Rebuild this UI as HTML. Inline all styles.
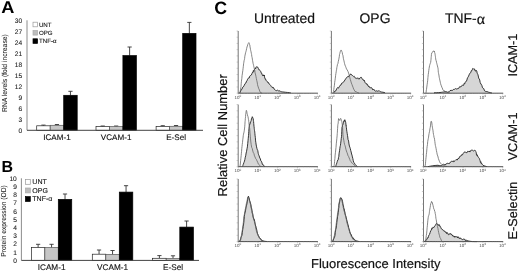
<!DOCTYPE html><html><head><meta charset="utf-8"><style>html,body{margin:0;padding:0;background:#fff;width:520px;height:272px;overflow:hidden}svg{display:block;will-change:transform}text{font-family:"Liberation Sans",sans-serif;text-rendering:geometricPrecision}</style></head><body>
<svg width="520" height="272" viewBox="0 0 520 272">
<defs><pattern id="hatch" width="2" height="2" patternUnits="userSpaceOnUse"><rect width="2" height="2" fill="#c8c8c8"/><rect width="1" height="1" fill="#a8a8a8"/></pattern></defs>
<rect width="520" height="272" fill="#fff"/>
<text transform="translate(1.3,13.3) scale(1.07,1)" font-size="17" font-weight="bold" fill="#000">A</text>
<text x="1.6" y="172.2" font-size="16" font-weight="bold" fill="#000">B</text>
<text x="214.2" y="13.5" font-size="17.8" font-weight="bold" fill="#000">C</text>
<line x1="27" y1="20.3" x2="27" y2="130.3" stroke="#808080" stroke-width="0.9"/>
<text x="22.1" y="132.68" font-size="6.6" text-anchor="end" fill="#222" stroke="#222" stroke-width="0.1">0</text>
<text x="22.1" y="121.68" font-size="6.6" text-anchor="end" fill="#222" stroke="#222" stroke-width="0.1">3</text>
<text x="22.1" y="110.68" font-size="6.6" text-anchor="end" fill="#222" stroke="#222" stroke-width="0.1">6</text>
<text x="22.1" y="99.68" font-size="6.6" text-anchor="end" fill="#222" stroke="#222" stroke-width="0.1">9</text>
<text x="22.1" y="88.68" font-size="6.6" text-anchor="end" fill="#222" stroke="#222" stroke-width="0.1">12</text>
<text x="22.1" y="77.68" font-size="6.6" text-anchor="end" fill="#222" stroke="#222" stroke-width="0.1">15</text>
<text x="22.1" y="66.68" font-size="6.6" text-anchor="end" fill="#222" stroke="#222" stroke-width="0.1">18</text>
<text x="22.1" y="55.68" font-size="6.6" text-anchor="end" fill="#222" stroke="#222" stroke-width="0.1">21</text>
<text x="22.1" y="44.68" font-size="6.6" text-anchor="end" fill="#222" stroke="#222" stroke-width="0.1">24</text>
<text x="22.1" y="33.68" font-size="6.6" text-anchor="end" fill="#222" stroke="#222" stroke-width="0.1">27</text>
<text x="22.1" y="22.68" font-size="6.6" text-anchor="end" fill="#222" stroke="#222" stroke-width="0.1">30</text>
<line x1="43.45" y1="125.1" x2="43.45" y2="125.8" stroke="#333" stroke-width="0.9"/>
<line x1="41.35" y1="125.1" x2="45.55" y2="125.1" stroke="#333" stroke-width="0.9"/>
<rect x="36.7" y="125.8" width="13.5" height="4.5" fill="#ffffff" stroke="#222" stroke-width="0.7"/>
<line x1="56.95" y1="124.5" x2="56.95" y2="125.3" stroke="#333" stroke-width="0.9"/>
<line x1="54.85" y1="124.5" x2="59.05" y2="124.5" stroke="#333" stroke-width="0.9"/>
<rect x="50.2" y="125.3" width="13.5" height="5" fill="#c6c6c6" stroke="#555" stroke-width="0.7"/>
<line x1="70.45" y1="91.3" x2="70.45" y2="95.3" stroke="#333" stroke-width="0.9"/>
<line x1="68.35" y1="91.3" x2="72.55" y2="91.3" stroke="#333" stroke-width="0.9"/>
<rect x="63.7" y="95.3" width="13.5" height="35" fill="#000000" stroke="#000" stroke-width="0.7"/>
<text x="56.95" y="139.7" font-size="8.1" text-anchor="middle" fill="#111" stroke="#111" stroke-width="0.12">ICAM-1</text>
<line x1="102.72" y1="126" x2="102.72" y2="126.6" stroke="#333" stroke-width="0.9"/>
<line x1="100.62" y1="126" x2="104.82" y2="126" stroke="#333" stroke-width="0.9"/>
<rect x="96" y="126.6" width="13.45" height="3.7" fill="#ffffff" stroke="#222" stroke-width="0.7"/>
<line x1="116.17" y1="126" x2="116.17" y2="126.6" stroke="#333" stroke-width="0.9"/>
<line x1="114.08" y1="126" x2="118.27" y2="126" stroke="#333" stroke-width="0.9"/>
<rect x="109.45" y="126.6" width="13.45" height="3.7" fill="#c6c6c6" stroke="#555" stroke-width="0.7"/>
<line x1="129.62" y1="47" x2="129.62" y2="55.6" stroke="#333" stroke-width="0.9"/>
<line x1="127.53" y1="47" x2="131.72" y2="47" stroke="#333" stroke-width="0.9"/>
<rect x="122.9" y="55.6" width="13.45" height="74.7" fill="#000000" stroke="#000" stroke-width="0.7"/>
<text x="116.17" y="139.7" font-size="8.1" text-anchor="middle" fill="#111" stroke="#111" stroke-width="0.12">VCAM-1</text>
<line x1="162.75" y1="125.7" x2="162.75" y2="126.4" stroke="#333" stroke-width="0.9"/>
<line x1="160.65" y1="125.7" x2="164.85" y2="125.7" stroke="#333" stroke-width="0.9"/>
<rect x="156.1" y="126.4" width="13.3" height="3.9" fill="#ffffff" stroke="#222" stroke-width="0.7"/>
<line x1="176.05" y1="125.5" x2="176.05" y2="126.3" stroke="#333" stroke-width="0.9"/>
<line x1="173.95" y1="125.5" x2="178.15" y2="125.5" stroke="#333" stroke-width="0.9"/>
<rect x="169.4" y="126.3" width="13.3" height="4" fill="#c6c6c6" stroke="#555" stroke-width="0.7"/>
<line x1="189.35" y1="22.4" x2="189.35" y2="33.4" stroke="#333" stroke-width="0.9"/>
<line x1="187.25" y1="22.4" x2="191.45" y2="22.4" stroke="#333" stroke-width="0.9"/>
<rect x="182.7" y="33.4" width="13.3" height="96.9" fill="#000000" stroke="#000" stroke-width="0.7"/>
<text x="176.05" y="139.7" font-size="8.1" text-anchor="middle" fill="#111" stroke="#111" stroke-width="0.12">E-Sel</text>
<line x1="27" y1="130.3" x2="203" y2="130.3" stroke="#444" stroke-width="1"/>
<text transform="translate(6.9,73.1) rotate(-90) scale(0.94,1)" font-size="7.2" text-anchor="middle" fill="#1a1a1a" stroke="#1a1a1a" stroke-width="0.06">RNA levels (fold increase)</text>
<rect x="33" y="22.2" width="4.6" height="4.6" fill="#fff" stroke="#999" stroke-width="0.7"/>
<text x="38.9" y="26.7" font-size="6.2" fill="#111" stroke="#111" stroke-width="0.08">UNT</text>
<rect x="33" y="30.5" width="4.6" height="4.6" fill="#bdbdbd" stroke="#aaa" stroke-width="0.7"/>
<text x="38.9" y="35" font-size="6.2" fill="#111" stroke="#111" stroke-width="0.08">OPG</text>
<rect x="33" y="38.8" width="4.6" height="4.6" fill="#000" stroke="#000" stroke-width="0.7"/>
<text x="38.9" y="43.3" font-size="6.2" fill="#111" stroke="#111" stroke-width="0.08">TNF-&#945;</text>
<line x1="21.4" y1="178.3" x2="21.4" y2="260.4" stroke="#808080" stroke-width="0.9"/>
<text x="16.8" y="262.78" font-size="6.6" text-anchor="end" fill="#222" stroke="#222" stroke-width="0.1">0</text>
<text x="16.8" y="254.57" font-size="6.6" text-anchor="end" fill="#222" stroke="#222" stroke-width="0.1">1</text>
<text x="16.8" y="246.36" font-size="6.6" text-anchor="end" fill="#222" stroke="#222" stroke-width="0.1">2</text>
<text x="16.8" y="238.15" font-size="6.6" text-anchor="end" fill="#222" stroke="#222" stroke-width="0.1">3</text>
<text x="16.8" y="229.94" font-size="6.6" text-anchor="end" fill="#222" stroke="#222" stroke-width="0.1">4</text>
<text x="16.8" y="221.73" font-size="6.6" text-anchor="end" fill="#222" stroke="#222" stroke-width="0.1">5</text>
<text x="16.8" y="213.52" font-size="6.6" text-anchor="end" fill="#222" stroke="#222" stroke-width="0.1">6</text>
<text x="16.8" y="205.31" font-size="6.6" text-anchor="end" fill="#222" stroke="#222" stroke-width="0.1">7</text>
<text x="16.8" y="197.1" font-size="6.6" text-anchor="end" fill="#222" stroke="#222" stroke-width="0.1">8</text>
<text x="16.8" y="188.89" font-size="6.6" text-anchor="end" fill="#222" stroke="#222" stroke-width="0.1">9</text>
<text x="16.8" y="180.68" font-size="6.6" text-anchor="end" fill="#222" stroke="#222" stroke-width="0.1">10</text>
<line x1="38.12" y1="244.3" x2="38.12" y2="247.6" stroke="#333" stroke-width="0.9"/>
<line x1="36.02" y1="244.3" x2="40.23" y2="244.3" stroke="#333" stroke-width="0.9"/>
<rect x="31.4" y="247.6" width="13.45" height="12.8" fill="#ffffff" stroke="#222" stroke-width="0.7"/>
<line x1="51.57" y1="244.3" x2="51.57" y2="247.6" stroke="#333" stroke-width="0.9"/>
<line x1="49.47" y1="244.3" x2="53.67" y2="244.3" stroke="#333" stroke-width="0.9"/>
<rect x="44.85" y="247.6" width="13.45" height="12.8" fill="#c6c6c6" stroke="#555" stroke-width="0.7"/>
<line x1="65.02" y1="194" x2="65.02" y2="199.4" stroke="#333" stroke-width="0.9"/>
<line x1="62.92" y1="194" x2="67.12" y2="194" stroke="#333" stroke-width="0.9"/>
<rect x="58.3" y="199.4" width="13.45" height="61" fill="#000000" stroke="#000" stroke-width="0.7"/>
<text x="51.57" y="270.3" font-size="8.2" text-anchor="middle" fill="#111" stroke="#111" stroke-width="0.12">ICAM-1</text>
<line x1="99.05" y1="250" x2="99.05" y2="254.2" stroke="#333" stroke-width="0.9"/>
<line x1="96.95" y1="250" x2="101.15" y2="250" stroke="#333" stroke-width="0.9"/>
<rect x="92.3" y="254.2" width="13.5" height="6.2" fill="#ffffff" stroke="#222" stroke-width="0.7"/>
<line x1="112.55" y1="250.5" x2="112.55" y2="254.5" stroke="#333" stroke-width="0.9"/>
<line x1="110.45" y1="250.5" x2="114.65" y2="250.5" stroke="#333" stroke-width="0.9"/>
<rect x="105.8" y="254.5" width="13.5" height="5.9" fill="#c6c6c6" stroke="#555" stroke-width="0.7"/>
<line x1="126.05" y1="185.7" x2="126.05" y2="192.1" stroke="#333" stroke-width="0.9"/>
<line x1="123.95" y1="185.7" x2="128.15" y2="185.7" stroke="#333" stroke-width="0.9"/>
<rect x="119.3" y="192.1" width="13.5" height="68.3" fill="#000000" stroke="#000" stroke-width="0.7"/>
<text x="112.55" y="270.3" font-size="8.2" text-anchor="middle" fill="#111" stroke="#111" stroke-width="0.12">VCAM-1</text>
<line x1="159.4" y1="255.6" x2="159.4" y2="258.3" stroke="#333" stroke-width="0.9"/>
<line x1="157.3" y1="255.6" x2="161.5" y2="255.6" stroke="#333" stroke-width="0.9"/>
<rect x="152.6" y="258.3" width="13.6" height="2.1" fill="#ffffff" stroke="#222" stroke-width="0.7"/>
<line x1="173" y1="255.8" x2="173" y2="258.5" stroke="#333" stroke-width="0.9"/>
<line x1="170.9" y1="255.8" x2="175.1" y2="255.8" stroke="#333" stroke-width="0.9"/>
<rect x="166.2" y="258.5" width="13.6" height="1.9" fill="#c6c6c6" stroke="#555" stroke-width="0.7"/>
<line x1="186.6" y1="221" x2="186.6" y2="227.1" stroke="#333" stroke-width="0.9"/>
<line x1="184.5" y1="221" x2="188.7" y2="221" stroke="#333" stroke-width="0.9"/>
<rect x="179.8" y="227.1" width="13.6" height="33.3" fill="#000000" stroke="#000" stroke-width="0.7"/>
<text x="173" y="270.3" font-size="8.2" text-anchor="middle" fill="#111" stroke="#111" stroke-width="0.12">E-Sel</text>
<line x1="21.4" y1="260.4" x2="199" y2="260.4" stroke="#444" stroke-width="1"/>
<text transform="translate(6.2,221) rotate(-90) scale(0.94,1)" font-size="7.1" text-anchor="middle" fill="#1a1a1a" stroke="#1a1a1a" stroke-width="0.06">Protein expression (OD)</text>
<rect x="25.4" y="179.4" width="4.9" height="4.9" fill="#fff" stroke="#999" stroke-width="0.7"/>
<text x="32.3" y="184.2" font-size="7.05" fill="#111" stroke="#111" stroke-width="0.08">UNT</text>
<rect x="25.4" y="188" width="4.9" height="4.9" fill="#bdbdbd" stroke="#aaa" stroke-width="0.7"/>
<text x="32.3" y="192.8" font-size="7.05" fill="#111" stroke="#111" stroke-width="0.08">OPG</text>
<rect x="25.4" y="196.6" width="4.9" height="4.9" fill="#000" stroke="#000" stroke-width="0.7"/>
<text x="32.3" y="201.4" font-size="7.05" fill="#111" stroke="#111" stroke-width="0.08">TNF-&#945;</text>
<text x="284.4" y="23.3" font-size="13.9" text-anchor="middle" fill="#111" stroke="#111" stroke-width="0.18">Untreated</text>
<text x="375.0" y="23.2" font-size="13.9" text-anchor="middle" fill="#111" stroke="#111" stroke-width="0.18">OPG</text>
<text x="445.0" y="23.2" font-size="13.9" fill="#111" stroke="#111" stroke-width="0.18">TNF-<tspan font-family="Liberation Serif, serif" font-size="15.8" dy="0.6">&#945;</tspan></text>
<text transform="translate(227.4,135.3) rotate(-90)" font-size="12.95" text-anchor="middle" fill="#111" stroke="#111" stroke-width="0.18">Relative Cell Number</text>
<text x="375.8" y="267.6" font-size="12.95" text-anchor="middle" fill="#111" stroke="#111" stroke-width="0.18">Fluorescence Intensity</text>
<text transform="translate(516.9,55.1) rotate(-90)" font-size="12.7" text-anchor="middle" fill="#111" stroke="#111" stroke-width="0.18">ICAM-1</text>
<text transform="translate(517.4,136.5) rotate(-90)" font-size="12.7" text-anchor="middle" fill="#111" stroke="#111" stroke-width="0.18">VCAM-1</text>
<text transform="translate(516.9,210.5) rotate(-90)" font-size="12.7" text-anchor="middle" fill="#111" stroke="#111" stroke-width="0.18">E-Selectin</text>
<path d="M239.5,93 L239.59,92.89 L239.7,92.75 L239.89,92.48 L240.2,92 L240.66,90.95 L241.24,89.69 L241.9,89.38 L242.6,87.32 L243.39,86.85 L244.26,85.29 L245.13,83.5 L245.9,83.01 L246.53,81.17 L247.07,80.77 L247.58,79.22 L248.1,78.35 L248.65,78.07 L249.2,77.99 L249.75,76.16 L250.3,75.56 L250.86,75.33 L251.43,74.92 L251.99,73.42 L252.5,72.33 L252.97,72.61 L253.4,70.57 L253.81,71.37 L254.2,69.96 L254.58,69.23 L254.94,68.7 L255.28,68.54 L255.6,68.91 L255.88,67.38 L256.13,67.47 L256.39,67.15 L256.7,66.6 L257.09,67.17 L257.52,67 L257.97,67.7 L258.4,68.53 L258.8,69.7 L259.2,69.65 L259.6,69.83 L260,70.74 L260.44,71.17 L260.89,71.68 L261.33,73.23 L261.7,73.72 L261.96,73.5 L262.16,74.46 L262.34,74.74 L262.6,75.6 L262.96,75.51 L263.39,74.82 L263.82,76.02 L264.2,74.99 L264.48,76.23 L264.71,77.81 L264.96,77.93 L265.3,79.38 L265.77,79.31 L266.33,80.83 L266.92,81.47 L267.5,81.72 L268.05,82.87 L268.6,82.7 L269.15,84.04 L269.7,84.55 L270.25,85.12 L270.8,85.47 L271.35,86.61 L271.9,87.31 L272.42,87.12 L272.93,87.99 L273.47,87.58 L274.1,89.12 L274.85,89.51 L275.68,90.51 L276.55,90.64 L277.4,90.16 L278.22,90.65 L279.05,91.39 L279.87,90.62 L280.7,91.54 L281.45,91.76 L282.14,91.88 L282.94,91.97 L284,92.1 L285.59,92.28 L287.56,92.48 L289.42,92.67 L290.7,92.8 L290.7,93.2 L239.5,93.2 Z" fill="#d6d6d6" stroke="none"/>
<path d="M239.5,93 L239.59,92.89 L239.7,92.75 L239.89,92.48 L240.2,92 L240.66,90.95 L241.24,89.69 L241.9,89.38 L242.6,87.32 L243.39,86.85 L244.26,85.29 L245.13,83.5 L245.9,83.01 L246.53,81.17 L247.07,80.77 L247.58,79.22 L248.1,78.35 L248.65,78.07 L249.2,77.99 L249.75,76.16 L250.3,75.56 L250.86,75.33 L251.43,74.92 L251.99,73.42 L252.5,72.33 L252.97,72.61 L253.4,70.57 L253.81,71.37 L254.2,69.96 L254.58,69.23 L254.94,68.7 L255.28,68.54 L255.6,68.91 L255.88,67.38 L256.13,67.47 L256.39,67.15 L256.7,66.6 L257.09,67.17 L257.52,67 L257.97,67.7 L258.4,68.53 L258.8,69.7 L259.2,69.65 L259.6,69.83 L260,70.74 L260.44,71.17 L260.89,71.68 L261.33,73.23 L261.7,73.72 L261.96,73.5 L262.16,74.46 L262.34,74.74 L262.6,75.6 L262.96,75.51 L263.39,74.82 L263.82,76.02 L264.2,74.99 L264.48,76.23 L264.71,77.81 L264.96,77.93 L265.3,79.38 L265.77,79.31 L266.33,80.83 L266.92,81.47 L267.5,81.72 L268.05,82.87 L268.6,82.7 L269.15,84.04 L269.7,84.55 L270.25,85.12 L270.8,85.47 L271.35,86.61 L271.9,87.31 L272.42,87.12 L272.93,87.99 L273.47,87.58 L274.1,89.12 L274.85,89.51 L275.68,90.51 L276.55,90.64 L277.4,90.16 L278.22,90.65 L279.05,91.39 L279.87,90.62 L280.7,91.54 L281.45,91.76 L282.14,91.88 L282.94,91.97 L284,92.1 L285.59,92.28 L287.56,92.48 L289.42,92.67 L290.7,92.8" fill="none" stroke="#151515" stroke-width="0.85" stroke-linejoin="miter"/>
<path d="M240,93 L240.14,92.17 L240.35,90.63 L240.58,89.15 L240.8,87.51 L241,86.51 L241.19,83.77 L241.39,81.79 L241.6,79.88 L241.84,78.42 L242.09,75.53 L242.35,73.94 L242.6,72.06 L242.85,70.38 L243.1,68.23 L243.35,66.27 L243.6,63.75 L243.85,62.24 L244.1,60.65 L244.35,59.81 L244.6,58.51 L244.84,56.3 L245.08,55.11 L245.32,53.96 L245.6,52.7 L245.92,51.63 L246.26,50.35 L246.63,48.59 L247,46.94 L247.4,45.96 L247.82,44.38 L248.24,43.32 L248.6,43.01 L248.89,42.66 L249.14,42.92 L249.37,43.79 L249.6,44.7 L249.83,44.91 L250.04,46.95 L250.26,48.02 L250.5,49.42 L250.76,50.73 L251.04,51.79 L251.33,53.35 L251.6,54.56 L251.86,56.67 L252.11,57.57 L252.35,59.09 L252.6,60.67 L252.85,61.94 L253.09,63.38 L253.34,64.27 L253.6,65.44 L253.89,66.84 L254.19,67.99 L254.5,69.53 L254.8,70.47 L255.09,72.83 L255.38,74 L255.68,75.01 L256,76.72 L256.35,78.54 L256.73,80.38 L257.12,81.91 L257.5,84.39 L257.88,86.09 L258.25,86.96 L258.62,88.32 L259,89.04 L259.38,90.04 L259.75,91.14 L260.12,91.98 L260.5,92.5 L260.91,92.81 L261.34,92.94 L261.73,92.97 L262,93" fill="none" stroke="#5e5e5e" stroke-width="0.75" stroke-linejoin="round"/>
<line x1="238.2" y1="31" x2="238.2" y2="93.2" stroke="#666" stroke-width="0.9"/>
<line x1="238.2" y1="93.2" x2="317.9" y2="93.2" stroke="#4a4a4a" stroke-width="1"/>
<line x1="236.6" y1="31" x2="238.2" y2="31" stroke="#999" stroke-width="0.5"/>
<line x1="236.6" y1="37.22" x2="238.2" y2="37.22" stroke="#999" stroke-width="0.5"/>
<line x1="236.6" y1="43.44" x2="238.2" y2="43.44" stroke="#999" stroke-width="0.5"/>
<line x1="236.6" y1="49.66" x2="238.2" y2="49.66" stroke="#999" stroke-width="0.5"/>
<line x1="236.6" y1="55.88" x2="238.2" y2="55.88" stroke="#999" stroke-width="0.5"/>
<line x1="236.6" y1="62.1" x2="238.2" y2="62.1" stroke="#999" stroke-width="0.5"/>
<line x1="236.6" y1="68.32" x2="238.2" y2="68.32" stroke="#999" stroke-width="0.5"/>
<line x1="236.6" y1="74.54" x2="238.2" y2="74.54" stroke="#999" stroke-width="0.5"/>
<line x1="236.6" y1="80.76" x2="238.2" y2="80.76" stroke="#999" stroke-width="0.5"/>
<line x1="236.6" y1="86.98" x2="238.2" y2="86.98" stroke="#999" stroke-width="0.5"/>
<line x1="236.6" y1="93.2" x2="238.2" y2="93.2" stroke="#999" stroke-width="0.5"/>
<line x1="238.2" y1="93.2" x2="238.2" y2="94.4" stroke="#888" stroke-width="0.5"/>
<text x="237.8" y="98.5" font-size="4.5" text-anchor="middle" fill="#4a4a4a">10<tspan font-size="3.1" dy="-1.5">0</tspan></text>
<line x1="244.16" y1="93.2" x2="244.16" y2="93.9" stroke="#aaa" stroke-width="0.35"/>
<line x1="247.65" y1="93.2" x2="247.65" y2="93.9" stroke="#aaa" stroke-width="0.35"/>
<line x1="250.12" y1="93.2" x2="250.12" y2="93.9" stroke="#aaa" stroke-width="0.35"/>
<line x1="252.04" y1="93.2" x2="252.04" y2="93.9" stroke="#aaa" stroke-width="0.35"/>
<line x1="253.61" y1="93.2" x2="253.61" y2="93.9" stroke="#aaa" stroke-width="0.35"/>
<line x1="254.93" y1="93.2" x2="254.93" y2="93.9" stroke="#aaa" stroke-width="0.35"/>
<line x1="256.08" y1="93.2" x2="256.08" y2="93.9" stroke="#aaa" stroke-width="0.35"/>
<line x1="257.09" y1="93.2" x2="257.09" y2="93.9" stroke="#aaa" stroke-width="0.35"/>
<line x1="258" y1="93.2" x2="258" y2="94.4" stroke="#888" stroke-width="0.5"/>
<text x="257.6" y="98.5" font-size="4.5" text-anchor="middle" fill="#4a4a4a">10<tspan font-size="3.1" dy="-1.5">1</tspan></text>
<line x1="263.96" y1="93.2" x2="263.96" y2="93.9" stroke="#aaa" stroke-width="0.35"/>
<line x1="267.45" y1="93.2" x2="267.45" y2="93.9" stroke="#aaa" stroke-width="0.35"/>
<line x1="269.92" y1="93.2" x2="269.92" y2="93.9" stroke="#aaa" stroke-width="0.35"/>
<line x1="271.84" y1="93.2" x2="271.84" y2="93.9" stroke="#aaa" stroke-width="0.35"/>
<line x1="273.41" y1="93.2" x2="273.41" y2="93.9" stroke="#aaa" stroke-width="0.35"/>
<line x1="274.73" y1="93.2" x2="274.73" y2="93.9" stroke="#aaa" stroke-width="0.35"/>
<line x1="275.88" y1="93.2" x2="275.88" y2="93.9" stroke="#aaa" stroke-width="0.35"/>
<line x1="276.89" y1="93.2" x2="276.89" y2="93.9" stroke="#aaa" stroke-width="0.35"/>
<line x1="277.8" y1="93.2" x2="277.8" y2="94.4" stroke="#888" stroke-width="0.5"/>
<text x="277.4" y="98.5" font-size="4.5" text-anchor="middle" fill="#4a4a4a">10<tspan font-size="3.1" dy="-1.5">2</tspan></text>
<line x1="283.76" y1="93.2" x2="283.76" y2="93.9" stroke="#aaa" stroke-width="0.35"/>
<line x1="287.25" y1="93.2" x2="287.25" y2="93.9" stroke="#aaa" stroke-width="0.35"/>
<line x1="289.72" y1="93.2" x2="289.72" y2="93.9" stroke="#aaa" stroke-width="0.35"/>
<line x1="291.64" y1="93.2" x2="291.64" y2="93.9" stroke="#aaa" stroke-width="0.35"/>
<line x1="293.21" y1="93.2" x2="293.21" y2="93.9" stroke="#aaa" stroke-width="0.35"/>
<line x1="294.53" y1="93.2" x2="294.53" y2="93.9" stroke="#aaa" stroke-width="0.35"/>
<line x1="295.68" y1="93.2" x2="295.68" y2="93.9" stroke="#aaa" stroke-width="0.35"/>
<line x1="296.69" y1="93.2" x2="296.69" y2="93.9" stroke="#aaa" stroke-width="0.35"/>
<line x1="297.6" y1="93.2" x2="297.6" y2="94.4" stroke="#888" stroke-width="0.5"/>
<text x="297.2" y="98.5" font-size="4.5" text-anchor="middle" fill="#4a4a4a">10<tspan font-size="3.1" dy="-1.5">3</tspan></text>
<line x1="303.56" y1="93.2" x2="303.56" y2="93.9" stroke="#aaa" stroke-width="0.35"/>
<line x1="307.05" y1="93.2" x2="307.05" y2="93.9" stroke="#aaa" stroke-width="0.35"/>
<line x1="309.52" y1="93.2" x2="309.52" y2="93.9" stroke="#aaa" stroke-width="0.35"/>
<line x1="311.44" y1="93.2" x2="311.44" y2="93.9" stroke="#aaa" stroke-width="0.35"/>
<line x1="313.01" y1="93.2" x2="313.01" y2="93.9" stroke="#aaa" stroke-width="0.35"/>
<line x1="314.33" y1="93.2" x2="314.33" y2="93.9" stroke="#aaa" stroke-width="0.35"/>
<line x1="315.48" y1="93.2" x2="315.48" y2="93.9" stroke="#aaa" stroke-width="0.35"/>
<line x1="316.49" y1="93.2" x2="316.49" y2="93.9" stroke="#aaa" stroke-width="0.35"/>
<line x1="317.4" y1="93.2" x2="317.4" y2="94.4" stroke="#888" stroke-width="0.5"/>
<text x="317" y="98.5" font-size="4.5" text-anchor="middle" fill="#4a4a4a">10<tspan font-size="3.1" dy="-1.5">4</tspan></text>
<path d="M333.5,93 L333.59,92.91 L333.69,92.79 L333.91,92.55 L334.3,92.1 L334.95,90.97 L335.79,90.88 L336.72,88.74 L337.6,87.54 L338.43,88.19 L339.25,86.74 L340.07,85.33 L340.9,85.07 L341.72,83.17 L342.55,82.79 L343.37,82.33 L344.2,81.08 L345.04,79.89 L345.88,78.36 L346.71,77.74 L347.5,76.67 L348.25,76.84 L348.97,75.66 L349.65,75.38 L350.3,74.23 L350.9,73.93 L351.47,74.97 L352,75.49 L352.5,75.56 L352.96,75.82 L353.39,76.25 L353.79,76.59 L354.2,76.26 L354.61,77.34 L355.02,77.8 L355.42,77.9 L355.8,78.24 L356.15,78.55 L356.46,78.13 L356.8,78.37 L357.2,78.53 L357.71,77.74 L358.28,78.71 L358.87,78.99 L359.4,79.03 L359.86,77.99 L360.29,77.57 L360.69,77.4 L361.1,77.31 L361.5,77.46 L361.9,78.38 L362.3,79.15 L362.7,79.44 L363.12,79.34 L363.55,80.18 L363.98,81 L364.4,80.44 L364.8,81.92 L365.2,82.89 L365.6,83.24 L366,83.7 L366.42,83.73 L366.85,83.67 L367.28,85.06 L367.7,84.73 L368.09,85.89 L368.47,86.55 L368.86,86.03 L369.3,86.44 L369.81,87.74 L370.36,87.83 L370.94,87.37 L371.5,87.7 L372.02,88.09 L372.53,89.62 L373.07,89.77 L373.7,89.03 L374.45,90.48 L375.27,91.1 L376.14,90.94 L377,90.76 L377.81,91.32 L378.62,90.85 L379.46,90.84 L380.4,91.8 L381.57,92.02 L382.91,92.25 L384.15,92.46 L385,92.6 L385,93.2 L333.5,93.2 Z" fill="#d6d6d6" stroke="none"/>
<path d="M333.5,93 L333.59,92.91 L333.69,92.79 L333.91,92.55 L334.3,92.1 L334.95,90.97 L335.79,90.88 L336.72,88.74 L337.6,87.54 L338.43,88.19 L339.25,86.74 L340.07,85.33 L340.9,85.07 L341.72,83.17 L342.55,82.79 L343.37,82.33 L344.2,81.08 L345.04,79.89 L345.88,78.36 L346.71,77.74 L347.5,76.67 L348.25,76.84 L348.97,75.66 L349.65,75.38 L350.3,74.23 L350.9,73.93 L351.47,74.97 L352,75.49 L352.5,75.56 L352.96,75.82 L353.39,76.25 L353.79,76.59 L354.2,76.26 L354.61,77.34 L355.02,77.8 L355.42,77.9 L355.8,78.24 L356.15,78.55 L356.46,78.13 L356.8,78.37 L357.2,78.53 L357.71,77.74 L358.28,78.71 L358.87,78.99 L359.4,79.03 L359.86,77.99 L360.29,77.57 L360.69,77.4 L361.1,77.31 L361.5,77.46 L361.9,78.38 L362.3,79.15 L362.7,79.44 L363.12,79.34 L363.55,80.18 L363.98,81 L364.4,80.44 L364.8,81.92 L365.2,82.89 L365.6,83.24 L366,83.7 L366.42,83.73 L366.85,83.67 L367.28,85.06 L367.7,84.73 L368.09,85.89 L368.47,86.55 L368.86,86.03 L369.3,86.44 L369.81,87.74 L370.36,87.83 L370.94,87.37 L371.5,87.7 L372.02,88.09 L372.53,89.62 L373.07,89.77 L373.7,89.03 L374.45,90.48 L375.27,91.1 L376.14,90.94 L377,90.76 L377.81,91.32 L378.62,90.85 L379.46,90.84 L380.4,91.8 L381.57,92.02 L382.91,92.25 L384.15,92.46 L385,92.6" fill="none" stroke="#151515" stroke-width="0.85" stroke-linejoin="miter"/>
<path d="M333,93 L333.13,92.49 L333.33,91.79 L333.55,91.32 L333.8,89.57 L334.07,87.45 L334.38,85.46 L334.69,82.31 L335,80.42 L335.31,78.21 L335.62,75.43 L335.92,73.51 L336.2,71.77 L336.43,70.19 L336.63,69.27 L336.83,67.63 L337.1,66.41 L337.46,64.49 L337.89,63.68 L338.32,61.33 L338.7,59.75 L339.01,58.14 L339.27,56.7 L339.52,54.48 L339.8,53.67 L340.11,52.1 L340.43,51.24 L340.76,50.65 L341.1,49.96 L341.47,50.89 L341.86,51.53 L342.25,52.52 L342.6,54.64 L342.9,55.21 L343.18,56.98 L343.43,58.71 L343.7,59.86 L343.97,60.83 L344.25,62.21 L344.52,63.35 L344.8,64.62 L345.04,64.7 L345.25,65.92 L345.51,66.3 L345.9,67.25 L346.49,68.95 L347.21,69.95 L347.96,71.4 L348.6,73.09 L349.08,74.82 L349.48,75.96 L349.86,77.85 L350.3,79.41 L350.81,81.11 L351.37,83.05 L351.94,84.44 L352.5,86.04 L353.05,87.31 L353.6,89.04 L354.15,89.84 L354.7,90.92 L355.25,91.66 L355.81,91.37 L356.36,91.99 L356.9,92.3 L357.48,92.57 L358.09,92.76 L358.62,92.9 L359,93" fill="none" stroke="#5e5e5e" stroke-width="0.75" stroke-linejoin="round"/>
<line x1="331.4" y1="31" x2="331.4" y2="93.2" stroke="#666" stroke-width="0.9"/>
<line x1="331.4" y1="93.2" x2="411.1" y2="93.2" stroke="#4a4a4a" stroke-width="1"/>
<line x1="329.8" y1="31" x2="331.4" y2="31" stroke="#999" stroke-width="0.5"/>
<line x1="329.8" y1="37.22" x2="331.4" y2="37.22" stroke="#999" stroke-width="0.5"/>
<line x1="329.8" y1="43.44" x2="331.4" y2="43.44" stroke="#999" stroke-width="0.5"/>
<line x1="329.8" y1="49.66" x2="331.4" y2="49.66" stroke="#999" stroke-width="0.5"/>
<line x1="329.8" y1="55.88" x2="331.4" y2="55.88" stroke="#999" stroke-width="0.5"/>
<line x1="329.8" y1="62.1" x2="331.4" y2="62.1" stroke="#999" stroke-width="0.5"/>
<line x1="329.8" y1="68.32" x2="331.4" y2="68.32" stroke="#999" stroke-width="0.5"/>
<line x1="329.8" y1="74.54" x2="331.4" y2="74.54" stroke="#999" stroke-width="0.5"/>
<line x1="329.8" y1="80.76" x2="331.4" y2="80.76" stroke="#999" stroke-width="0.5"/>
<line x1="329.8" y1="86.98" x2="331.4" y2="86.98" stroke="#999" stroke-width="0.5"/>
<line x1="329.8" y1="93.2" x2="331.4" y2="93.2" stroke="#999" stroke-width="0.5"/>
<line x1="331.4" y1="93.2" x2="331.4" y2="94.4" stroke="#888" stroke-width="0.5"/>
<text x="331" y="98.5" font-size="4.5" text-anchor="middle" fill="#4a4a4a">10<tspan font-size="3.1" dy="-1.5">0</tspan></text>
<line x1="337.36" y1="93.2" x2="337.36" y2="93.9" stroke="#aaa" stroke-width="0.35"/>
<line x1="340.85" y1="93.2" x2="340.85" y2="93.9" stroke="#aaa" stroke-width="0.35"/>
<line x1="343.32" y1="93.2" x2="343.32" y2="93.9" stroke="#aaa" stroke-width="0.35"/>
<line x1="345.24" y1="93.2" x2="345.24" y2="93.9" stroke="#aaa" stroke-width="0.35"/>
<line x1="346.81" y1="93.2" x2="346.81" y2="93.9" stroke="#aaa" stroke-width="0.35"/>
<line x1="348.13" y1="93.2" x2="348.13" y2="93.9" stroke="#aaa" stroke-width="0.35"/>
<line x1="349.28" y1="93.2" x2="349.28" y2="93.9" stroke="#aaa" stroke-width="0.35"/>
<line x1="350.29" y1="93.2" x2="350.29" y2="93.9" stroke="#aaa" stroke-width="0.35"/>
<line x1="351.2" y1="93.2" x2="351.2" y2="94.4" stroke="#888" stroke-width="0.5"/>
<text x="350.8" y="98.5" font-size="4.5" text-anchor="middle" fill="#4a4a4a">10<tspan font-size="3.1" dy="-1.5">1</tspan></text>
<line x1="357.16" y1="93.2" x2="357.16" y2="93.9" stroke="#aaa" stroke-width="0.35"/>
<line x1="360.65" y1="93.2" x2="360.65" y2="93.9" stroke="#aaa" stroke-width="0.35"/>
<line x1="363.12" y1="93.2" x2="363.12" y2="93.9" stroke="#aaa" stroke-width="0.35"/>
<line x1="365.04" y1="93.2" x2="365.04" y2="93.9" stroke="#aaa" stroke-width="0.35"/>
<line x1="366.61" y1="93.2" x2="366.61" y2="93.9" stroke="#aaa" stroke-width="0.35"/>
<line x1="367.93" y1="93.2" x2="367.93" y2="93.9" stroke="#aaa" stroke-width="0.35"/>
<line x1="369.08" y1="93.2" x2="369.08" y2="93.9" stroke="#aaa" stroke-width="0.35"/>
<line x1="370.09" y1="93.2" x2="370.09" y2="93.9" stroke="#aaa" stroke-width="0.35"/>
<line x1="371" y1="93.2" x2="371" y2="94.4" stroke="#888" stroke-width="0.5"/>
<text x="370.6" y="98.5" font-size="4.5" text-anchor="middle" fill="#4a4a4a">10<tspan font-size="3.1" dy="-1.5">2</tspan></text>
<line x1="376.96" y1="93.2" x2="376.96" y2="93.9" stroke="#aaa" stroke-width="0.35"/>
<line x1="380.45" y1="93.2" x2="380.45" y2="93.9" stroke="#aaa" stroke-width="0.35"/>
<line x1="382.92" y1="93.2" x2="382.92" y2="93.9" stroke="#aaa" stroke-width="0.35"/>
<line x1="384.84" y1="93.2" x2="384.84" y2="93.9" stroke="#aaa" stroke-width="0.35"/>
<line x1="386.41" y1="93.2" x2="386.41" y2="93.9" stroke="#aaa" stroke-width="0.35"/>
<line x1="387.73" y1="93.2" x2="387.73" y2="93.9" stroke="#aaa" stroke-width="0.35"/>
<line x1="388.88" y1="93.2" x2="388.88" y2="93.9" stroke="#aaa" stroke-width="0.35"/>
<line x1="389.89" y1="93.2" x2="389.89" y2="93.9" stroke="#aaa" stroke-width="0.35"/>
<line x1="390.8" y1="93.2" x2="390.8" y2="94.4" stroke="#888" stroke-width="0.5"/>
<text x="390.4" y="98.5" font-size="4.5" text-anchor="middle" fill="#4a4a4a">10<tspan font-size="3.1" dy="-1.5">3</tspan></text>
<line x1="396.76" y1="93.2" x2="396.76" y2="93.9" stroke="#aaa" stroke-width="0.35"/>
<line x1="400.25" y1="93.2" x2="400.25" y2="93.9" stroke="#aaa" stroke-width="0.35"/>
<line x1="402.72" y1="93.2" x2="402.72" y2="93.9" stroke="#aaa" stroke-width="0.35"/>
<line x1="404.64" y1="93.2" x2="404.64" y2="93.9" stroke="#aaa" stroke-width="0.35"/>
<line x1="406.21" y1="93.2" x2="406.21" y2="93.9" stroke="#aaa" stroke-width="0.35"/>
<line x1="407.53" y1="93.2" x2="407.53" y2="93.9" stroke="#aaa" stroke-width="0.35"/>
<line x1="408.68" y1="93.2" x2="408.68" y2="93.9" stroke="#aaa" stroke-width="0.35"/>
<line x1="409.69" y1="93.2" x2="409.69" y2="93.9" stroke="#aaa" stroke-width="0.35"/>
<line x1="410.6" y1="93.2" x2="410.6" y2="94.4" stroke="#888" stroke-width="0.5"/>
<text x="410.2" y="98.5" font-size="4.5" text-anchor="middle" fill="#4a4a4a">10<tspan font-size="3.1" dy="-1.5">4</tspan></text>
<path d="M434,92.8 L435.1,92.76 L436.69,92.69 L438.43,92.61 L440,92.5 L441.32,92.35 L442.56,92.17 L443.77,91.98 L445,91.8 L446.26,91.76 L447.54,92.25 L448.79,91.95 L450,90.62 L451.14,90.32 L452.24,90.51 L453.31,89.54 L454.4,89.39 L455.52,88.62 L456.64,89.02 L457.75,88.62 L458.8,88.24 L459.81,86.5 L460.79,86.85 L461.7,86.21 L462.5,84.83 L463.16,85.5 L463.69,85.14 L464.19,83.41 L464.7,83.92 L465.25,82.23 L465.8,81.47 L466.35,81.29 L466.9,80.03 L467.45,77.89 L468,77.19 L468.55,76.19 L469.1,74.84 L469.66,73.61 L470.22,72.84 L470.77,72.58 L471.3,70.63 L471.8,70.69 L472.27,69.75 L472.74,68.47 L473.2,68.63 L473.66,69.11 L474.12,69.23 L474.57,68.92 L475,70.78 L475.4,70.74 L475.77,71.29 L476.14,70.25 L476.5,71.02 L476.85,71.41 L477.2,73.51 L477.55,73.7 L477.9,74.51 L478.27,76.03 L478.64,77.91 L479.02,78.89 L479.4,79.11 L479.76,80.04 L480.11,82.36 L480.48,82.91 L480.9,84.22 L481.38,84.4 L481.91,85.54 L482.48,87.69 L483.1,88.28 L483.77,88.6 L484.5,90.77 L485.25,90.96 L486,91.78 L486.74,91.02 L487.49,91.94 L488.25,92.12 L489,92.3 L489.82,92.51 L490.69,92.71 L491.46,92.88 L492,93 L492,93.2 L434,93.2 Z" fill="#d6d6d6" stroke="none"/>
<path d="M434,92.8 L435.1,92.76 L436.69,92.69 L438.43,92.61 L440,92.5 L441.32,92.35 L442.56,92.17 L443.77,91.98 L445,91.8 L446.26,91.76 L447.54,92.25 L448.79,91.95 L450,90.62 L451.14,90.32 L452.24,90.51 L453.31,89.54 L454.4,89.39 L455.52,88.62 L456.64,89.02 L457.75,88.62 L458.8,88.24 L459.81,86.5 L460.79,86.85 L461.7,86.21 L462.5,84.83 L463.16,85.5 L463.69,85.14 L464.19,83.41 L464.7,83.92 L465.25,82.23 L465.8,81.47 L466.35,81.29 L466.9,80.03 L467.45,77.89 L468,77.19 L468.55,76.19 L469.1,74.84 L469.66,73.61 L470.22,72.84 L470.77,72.58 L471.3,70.63 L471.8,70.69 L472.27,69.75 L472.74,68.47 L473.2,68.63 L473.66,69.11 L474.12,69.23 L474.57,68.92 L475,70.78 L475.4,70.74 L475.77,71.29 L476.14,70.25 L476.5,71.02 L476.85,71.41 L477.2,73.51 L477.55,73.7 L477.9,74.51 L478.27,76.03 L478.64,77.91 L479.02,78.89 L479.4,79.11 L479.76,80.04 L480.11,82.36 L480.48,82.91 L480.9,84.22 L481.38,84.4 L481.91,85.54 L482.48,87.69 L483.1,88.28 L483.77,88.6 L484.5,90.77 L485.25,90.96 L486,91.78 L486.74,91.02 L487.49,91.94 L488.25,92.12 L489,92.3 L489.82,92.51 L490.69,92.71 L491.46,92.88 L492,93" fill="none" stroke="#151515" stroke-width="0.85" stroke-linejoin="miter"/>
<path d="M426,93 L426.04,92.68 L426.08,92.24 L426.16,91.96 L426.3,90.01 L426.52,89.38 L426.8,87.01 L427.11,84.74 L427.4,82.76 L427.67,80.78 L427.95,77.43 L428.22,74.69 L428.5,72.83 L428.77,70.52 L429.05,68.59 L429.32,67.05 L429.6,65.5 L429.89,64.5 L430.18,63.71 L430.46,62.82 L430.7,62.29 L430.89,60.44 L431.04,59.21 L431.17,57.39 L431.3,56.33 L431.39,54.95 L431.45,54.36 L431.56,53.35 L431.8,53.46 L432.26,52.5 L432.86,51.34 L433.49,51.11 L434,51.49 L434.36,50.97 L434.65,52.59 L434.89,53.19 L435.1,54.29 L435.27,55.7 L435.4,56.31 L435.53,57.57 L435.7,58.91 L435.94,60.33 L436.21,60.71 L436.51,62.37 L436.8,63.43 L437.11,64.69 L437.44,65.87 L437.75,67.23 L438,68.2 L438.14,69.38 L438.21,70.27 L438.27,71.98 L438.4,72.53 L438.63,73.7 L438.91,75 L439.21,77.27 L439.5,78.72 L439.76,79.89 L440.01,80.87 L440.28,82.21 L440.6,83.57 L440.97,84.99 L441.38,85.84 L441.83,87.26 L442.3,88.03 L442.8,89.65 L443.33,90.38 L443.9,90.52 L444.5,90.71 L445.16,91.96 L445.87,91.77 L446.59,92.05 L447.3,92.3 L448.05,92.53 L448.83,92.73 L449.52,92.89 L450,93" fill="none" stroke="#5e5e5e" stroke-width="0.75" stroke-linejoin="round"/>
<line x1="423.5" y1="31" x2="423.5" y2="93.2" stroke="#666" stroke-width="0.9"/>
<line x1="423.5" y1="93.2" x2="503.2" y2="93.2" stroke="#4a4a4a" stroke-width="1"/>
<line x1="421.9" y1="31" x2="423.5" y2="31" stroke="#999" stroke-width="0.5"/>
<line x1="421.9" y1="37.22" x2="423.5" y2="37.22" stroke="#999" stroke-width="0.5"/>
<line x1="421.9" y1="43.44" x2="423.5" y2="43.44" stroke="#999" stroke-width="0.5"/>
<line x1="421.9" y1="49.66" x2="423.5" y2="49.66" stroke="#999" stroke-width="0.5"/>
<line x1="421.9" y1="55.88" x2="423.5" y2="55.88" stroke="#999" stroke-width="0.5"/>
<line x1="421.9" y1="62.1" x2="423.5" y2="62.1" stroke="#999" stroke-width="0.5"/>
<line x1="421.9" y1="68.32" x2="423.5" y2="68.32" stroke="#999" stroke-width="0.5"/>
<line x1="421.9" y1="74.54" x2="423.5" y2="74.54" stroke="#999" stroke-width="0.5"/>
<line x1="421.9" y1="80.76" x2="423.5" y2="80.76" stroke="#999" stroke-width="0.5"/>
<line x1="421.9" y1="86.98" x2="423.5" y2="86.98" stroke="#999" stroke-width="0.5"/>
<line x1="421.9" y1="93.2" x2="423.5" y2="93.2" stroke="#999" stroke-width="0.5"/>
<line x1="423.5" y1="93.2" x2="423.5" y2="94.4" stroke="#888" stroke-width="0.5"/>
<text x="423.1" y="98.5" font-size="4.5" text-anchor="middle" fill="#4a4a4a">10<tspan font-size="3.1" dy="-1.5">0</tspan></text>
<line x1="429.46" y1="93.2" x2="429.46" y2="93.9" stroke="#aaa" stroke-width="0.35"/>
<line x1="432.95" y1="93.2" x2="432.95" y2="93.9" stroke="#aaa" stroke-width="0.35"/>
<line x1="435.42" y1="93.2" x2="435.42" y2="93.9" stroke="#aaa" stroke-width="0.35"/>
<line x1="437.34" y1="93.2" x2="437.34" y2="93.9" stroke="#aaa" stroke-width="0.35"/>
<line x1="438.91" y1="93.2" x2="438.91" y2="93.9" stroke="#aaa" stroke-width="0.35"/>
<line x1="440.23" y1="93.2" x2="440.23" y2="93.9" stroke="#aaa" stroke-width="0.35"/>
<line x1="441.38" y1="93.2" x2="441.38" y2="93.9" stroke="#aaa" stroke-width="0.35"/>
<line x1="442.39" y1="93.2" x2="442.39" y2="93.9" stroke="#aaa" stroke-width="0.35"/>
<line x1="443.3" y1="93.2" x2="443.3" y2="94.4" stroke="#888" stroke-width="0.5"/>
<text x="442.9" y="98.5" font-size="4.5" text-anchor="middle" fill="#4a4a4a">10<tspan font-size="3.1" dy="-1.5">1</tspan></text>
<line x1="449.26" y1="93.2" x2="449.26" y2="93.9" stroke="#aaa" stroke-width="0.35"/>
<line x1="452.75" y1="93.2" x2="452.75" y2="93.9" stroke="#aaa" stroke-width="0.35"/>
<line x1="455.22" y1="93.2" x2="455.22" y2="93.9" stroke="#aaa" stroke-width="0.35"/>
<line x1="457.14" y1="93.2" x2="457.14" y2="93.9" stroke="#aaa" stroke-width="0.35"/>
<line x1="458.71" y1="93.2" x2="458.71" y2="93.9" stroke="#aaa" stroke-width="0.35"/>
<line x1="460.03" y1="93.2" x2="460.03" y2="93.9" stroke="#aaa" stroke-width="0.35"/>
<line x1="461.18" y1="93.2" x2="461.18" y2="93.9" stroke="#aaa" stroke-width="0.35"/>
<line x1="462.19" y1="93.2" x2="462.19" y2="93.9" stroke="#aaa" stroke-width="0.35"/>
<line x1="463.1" y1="93.2" x2="463.1" y2="94.4" stroke="#888" stroke-width="0.5"/>
<text x="462.7" y="98.5" font-size="4.5" text-anchor="middle" fill="#4a4a4a">10<tspan font-size="3.1" dy="-1.5">2</tspan></text>
<line x1="469.06" y1="93.2" x2="469.06" y2="93.9" stroke="#aaa" stroke-width="0.35"/>
<line x1="472.55" y1="93.2" x2="472.55" y2="93.9" stroke="#aaa" stroke-width="0.35"/>
<line x1="475.02" y1="93.2" x2="475.02" y2="93.9" stroke="#aaa" stroke-width="0.35"/>
<line x1="476.94" y1="93.2" x2="476.94" y2="93.9" stroke="#aaa" stroke-width="0.35"/>
<line x1="478.51" y1="93.2" x2="478.51" y2="93.9" stroke="#aaa" stroke-width="0.35"/>
<line x1="479.83" y1="93.2" x2="479.83" y2="93.9" stroke="#aaa" stroke-width="0.35"/>
<line x1="480.98" y1="93.2" x2="480.98" y2="93.9" stroke="#aaa" stroke-width="0.35"/>
<line x1="481.99" y1="93.2" x2="481.99" y2="93.9" stroke="#aaa" stroke-width="0.35"/>
<line x1="482.9" y1="93.2" x2="482.9" y2="94.4" stroke="#888" stroke-width="0.5"/>
<text x="482.5" y="98.5" font-size="4.5" text-anchor="middle" fill="#4a4a4a">10<tspan font-size="3.1" dy="-1.5">3</tspan></text>
<line x1="488.86" y1="93.2" x2="488.86" y2="93.9" stroke="#aaa" stroke-width="0.35"/>
<line x1="492.35" y1="93.2" x2="492.35" y2="93.9" stroke="#aaa" stroke-width="0.35"/>
<line x1="494.82" y1="93.2" x2="494.82" y2="93.9" stroke="#aaa" stroke-width="0.35"/>
<line x1="496.74" y1="93.2" x2="496.74" y2="93.9" stroke="#aaa" stroke-width="0.35"/>
<line x1="498.31" y1="93.2" x2="498.31" y2="93.9" stroke="#aaa" stroke-width="0.35"/>
<line x1="499.63" y1="93.2" x2="499.63" y2="93.9" stroke="#aaa" stroke-width="0.35"/>
<line x1="500.78" y1="93.2" x2="500.78" y2="93.9" stroke="#aaa" stroke-width="0.35"/>
<line x1="501.79" y1="93.2" x2="501.79" y2="93.9" stroke="#aaa" stroke-width="0.35"/>
<line x1="502.7" y1="93.2" x2="502.7" y2="94.4" stroke="#888" stroke-width="0.5"/>
<text x="502.3" y="98.5" font-size="4.5" text-anchor="middle" fill="#4a4a4a">10<tspan font-size="3.1" dy="-1.5">4</tspan></text>
<path d="M242.5,166.6 L242.58,166.38 L242.68,166.07 L242.82,165.67 L243,165.2 L243.22,164.41 L243.48,163.95 L243.78,162.69 L244.1,162.31 L244.46,161.11 L244.86,159.54 L245.28,157.24 L245.7,155.81 L246.13,153.01 L246.58,151.29 L247.01,148.75 L247.4,146.84 L247.73,143.6 L248.03,140.69 L248.28,138.28 L248.5,135.57 L248.66,133.82 L248.78,131.57 L248.88,130 L249,128.25 L249.12,127.22 L249.23,126.73 L249.38,125.32 L249.6,124.42 L249.94,124.44 L250.37,121.97 L250.81,121.74 L251.2,120.53 L251.51,118.4 L251.78,118.42 L252.04,117.53 L252.3,116.7 L252.59,117.25 L252.88,118.32 L253.16,118.48 L253.4,120.34 L253.59,121.59 L253.74,123.54 L253.87,124.94 L254,126.32 L254.13,127.1 L254.25,128.67 L254.37,129.41 L254.5,130.61 L254.63,131.14 L254.76,132.13 L254.91,133.74 L255.1,135.78 L255.33,137.4 L255.59,140.88 L255.88,142.78 L256.2,145 L256.56,146.83 L256.96,148.59 L257.38,149.85 L257.8,150.61 L258.22,153.37 L258.64,154.73 L259.07,155.71 L259.5,157.06 L259.93,158.47 L260.36,158.65 L260.78,160.78 L261.2,161 L261.59,161.65 L261.97,162.83 L262.36,164.37 L262.8,164.23 L263.36,165.32 L264,165.86 L264.59,166.29 L265,166.6 L265,166.7 L242.5,166.7 Z" fill="#d6d6d6" stroke="none"/>
<path d="M242.5,166.6 L242.58,166.38 L242.68,166.07 L242.82,165.67 L243,165.2 L243.22,164.41 L243.48,163.95 L243.78,162.69 L244.1,162.31 L244.46,161.11 L244.86,159.54 L245.28,157.24 L245.7,155.81 L246.13,153.01 L246.58,151.29 L247.01,148.75 L247.4,146.84 L247.73,143.6 L248.03,140.69 L248.28,138.28 L248.5,135.57 L248.66,133.82 L248.78,131.57 L248.88,130 L249,128.25 L249.12,127.22 L249.23,126.73 L249.38,125.32 L249.6,124.42 L249.94,124.44 L250.37,121.97 L250.81,121.74 L251.2,120.53 L251.51,118.4 L251.78,118.42 L252.04,117.53 L252.3,116.7 L252.59,117.25 L252.88,118.32 L253.16,118.48 L253.4,120.34 L253.59,121.59 L253.74,123.54 L253.87,124.94 L254,126.32 L254.13,127.1 L254.25,128.67 L254.37,129.41 L254.5,130.61 L254.63,131.14 L254.76,132.13 L254.91,133.74 L255.1,135.78 L255.33,137.4 L255.59,140.88 L255.88,142.78 L256.2,145 L256.56,146.83 L256.96,148.59 L257.38,149.85 L257.8,150.61 L258.22,153.37 L258.64,154.73 L259.07,155.71 L259.5,157.06 L259.93,158.47 L260.36,158.65 L260.78,160.78 L261.2,161 L261.59,161.65 L261.97,162.83 L262.36,164.37 L262.8,164.23 L263.36,165.32 L264,165.86 L264.59,166.29 L265,166.6" fill="none" stroke="#151515" stroke-width="0.85" stroke-linejoin="miter"/>
<path d="M240,166.6 L240.09,165.83 L240.21,165.01 L240.35,163.96 L240.5,161.99 L240.66,160.31 L240.83,158.69 L241.01,157.08 L241.2,155.3 L241.39,153.22 L241.58,151.28 L241.78,148.62 L242,146.61 L242.24,144.47 L242.49,142.65 L242.75,139.84 L243,138.08 L243.26,135.7 L243.53,134.2 L243.78,133.03 L244,132.19 L244.18,131.16 L244.33,130.3 L244.46,128.98 L244.6,128.02 L244.75,126.24 L244.91,124.21 L245.06,121.73 L245.2,120.74 L245.33,118.41 L245.45,117.88 L245.57,116.53 L245.7,114.26 L245.83,113.37 L245.96,112.34 L246.11,111.38 L246.3,110.34 L246.54,110.62 L246.82,111.73 L247.11,113.99 L247.4,114.48 L247.69,115.99 L247.99,116.6 L248.27,118.13 L248.5,119.71 L248.66,119.89 L248.78,121.76 L248.88,122.51 L249,124.03 L249.15,124.89 L249.3,125.4 L249.45,127.23 L249.6,127.98 L249.72,128.74 L249.82,130.04 L249.94,132.12 L250.1,133.94 L250.31,136.21 L250.54,138.89 L250.83,142.03 L251.2,144.59 L251.67,147.38 L252.23,148.42 L252.82,151.08 L253.4,152.88 L253.94,153.6 L254.46,155.86 L255.01,156.91 L255.6,158.45 L256.26,159.22 L256.97,160.81 L257.7,162.26 L258.4,164.16 L259.12,164.7 L259.88,165.45 L260.54,166.12 L261,166.6" fill="none" stroke="#5e5e5e" stroke-width="0.75" stroke-linejoin="round"/>
<line x1="238.2" y1="104.6" x2="238.2" y2="166.7" stroke="#666" stroke-width="0.9"/>
<line x1="238.2" y1="166.7" x2="317.9" y2="166.7" stroke="#4a4a4a" stroke-width="1"/>
<line x1="236.6" y1="104.6" x2="238.2" y2="104.6" stroke="#999" stroke-width="0.5"/>
<line x1="236.6" y1="110.81" x2="238.2" y2="110.81" stroke="#999" stroke-width="0.5"/>
<line x1="236.6" y1="117.02" x2="238.2" y2="117.02" stroke="#999" stroke-width="0.5"/>
<line x1="236.6" y1="123.23" x2="238.2" y2="123.23" stroke="#999" stroke-width="0.5"/>
<line x1="236.6" y1="129.44" x2="238.2" y2="129.44" stroke="#999" stroke-width="0.5"/>
<line x1="236.6" y1="135.65" x2="238.2" y2="135.65" stroke="#999" stroke-width="0.5"/>
<line x1="236.6" y1="141.86" x2="238.2" y2="141.86" stroke="#999" stroke-width="0.5"/>
<line x1="236.6" y1="148.07" x2="238.2" y2="148.07" stroke="#999" stroke-width="0.5"/>
<line x1="236.6" y1="154.28" x2="238.2" y2="154.28" stroke="#999" stroke-width="0.5"/>
<line x1="236.6" y1="160.49" x2="238.2" y2="160.49" stroke="#999" stroke-width="0.5"/>
<line x1="236.6" y1="166.7" x2="238.2" y2="166.7" stroke="#999" stroke-width="0.5"/>
<line x1="238.2" y1="166.7" x2="238.2" y2="167.9" stroke="#888" stroke-width="0.5"/>
<text x="237.8" y="172" font-size="4.5" text-anchor="middle" fill="#4a4a4a">10<tspan font-size="3.1" dy="-1.5">0</tspan></text>
<line x1="244.16" y1="166.7" x2="244.16" y2="167.4" stroke="#aaa" stroke-width="0.35"/>
<line x1="247.65" y1="166.7" x2="247.65" y2="167.4" stroke="#aaa" stroke-width="0.35"/>
<line x1="250.12" y1="166.7" x2="250.12" y2="167.4" stroke="#aaa" stroke-width="0.35"/>
<line x1="252.04" y1="166.7" x2="252.04" y2="167.4" stroke="#aaa" stroke-width="0.35"/>
<line x1="253.61" y1="166.7" x2="253.61" y2="167.4" stroke="#aaa" stroke-width="0.35"/>
<line x1="254.93" y1="166.7" x2="254.93" y2="167.4" stroke="#aaa" stroke-width="0.35"/>
<line x1="256.08" y1="166.7" x2="256.08" y2="167.4" stroke="#aaa" stroke-width="0.35"/>
<line x1="257.09" y1="166.7" x2="257.09" y2="167.4" stroke="#aaa" stroke-width="0.35"/>
<line x1="258" y1="166.7" x2="258" y2="167.9" stroke="#888" stroke-width="0.5"/>
<text x="257.6" y="172" font-size="4.5" text-anchor="middle" fill="#4a4a4a">10<tspan font-size="3.1" dy="-1.5">1</tspan></text>
<line x1="263.96" y1="166.7" x2="263.96" y2="167.4" stroke="#aaa" stroke-width="0.35"/>
<line x1="267.45" y1="166.7" x2="267.45" y2="167.4" stroke="#aaa" stroke-width="0.35"/>
<line x1="269.92" y1="166.7" x2="269.92" y2="167.4" stroke="#aaa" stroke-width="0.35"/>
<line x1="271.84" y1="166.7" x2="271.84" y2="167.4" stroke="#aaa" stroke-width="0.35"/>
<line x1="273.41" y1="166.7" x2="273.41" y2="167.4" stroke="#aaa" stroke-width="0.35"/>
<line x1="274.73" y1="166.7" x2="274.73" y2="167.4" stroke="#aaa" stroke-width="0.35"/>
<line x1="275.88" y1="166.7" x2="275.88" y2="167.4" stroke="#aaa" stroke-width="0.35"/>
<line x1="276.89" y1="166.7" x2="276.89" y2="167.4" stroke="#aaa" stroke-width="0.35"/>
<line x1="277.8" y1="166.7" x2="277.8" y2="167.9" stroke="#888" stroke-width="0.5"/>
<text x="277.4" y="172" font-size="4.5" text-anchor="middle" fill="#4a4a4a">10<tspan font-size="3.1" dy="-1.5">2</tspan></text>
<line x1="283.76" y1="166.7" x2="283.76" y2="167.4" stroke="#aaa" stroke-width="0.35"/>
<line x1="287.25" y1="166.7" x2="287.25" y2="167.4" stroke="#aaa" stroke-width="0.35"/>
<line x1="289.72" y1="166.7" x2="289.72" y2="167.4" stroke="#aaa" stroke-width="0.35"/>
<line x1="291.64" y1="166.7" x2="291.64" y2="167.4" stroke="#aaa" stroke-width="0.35"/>
<line x1="293.21" y1="166.7" x2="293.21" y2="167.4" stroke="#aaa" stroke-width="0.35"/>
<line x1="294.53" y1="166.7" x2="294.53" y2="167.4" stroke="#aaa" stroke-width="0.35"/>
<line x1="295.68" y1="166.7" x2="295.68" y2="167.4" stroke="#aaa" stroke-width="0.35"/>
<line x1="296.69" y1="166.7" x2="296.69" y2="167.4" stroke="#aaa" stroke-width="0.35"/>
<line x1="297.6" y1="166.7" x2="297.6" y2="167.9" stroke="#888" stroke-width="0.5"/>
<text x="297.2" y="172" font-size="4.5" text-anchor="middle" fill="#4a4a4a">10<tspan font-size="3.1" dy="-1.5">3</tspan></text>
<line x1="303.56" y1="166.7" x2="303.56" y2="167.4" stroke="#aaa" stroke-width="0.35"/>
<line x1="307.05" y1="166.7" x2="307.05" y2="167.4" stroke="#aaa" stroke-width="0.35"/>
<line x1="309.52" y1="166.7" x2="309.52" y2="167.4" stroke="#aaa" stroke-width="0.35"/>
<line x1="311.44" y1="166.7" x2="311.44" y2="167.4" stroke="#aaa" stroke-width="0.35"/>
<line x1="313.01" y1="166.7" x2="313.01" y2="167.4" stroke="#aaa" stroke-width="0.35"/>
<line x1="314.33" y1="166.7" x2="314.33" y2="167.4" stroke="#aaa" stroke-width="0.35"/>
<line x1="315.48" y1="166.7" x2="315.48" y2="167.4" stroke="#aaa" stroke-width="0.35"/>
<line x1="316.49" y1="166.7" x2="316.49" y2="167.4" stroke="#aaa" stroke-width="0.35"/>
<line x1="317.4" y1="166.7" x2="317.4" y2="167.9" stroke="#888" stroke-width="0.5"/>
<text x="317" y="172" font-size="4.5" text-anchor="middle" fill="#4a4a4a">10<tspan font-size="3.1" dy="-1.5">4</tspan></text>
<path d="M335.5,166.6 L335.66,166.21 L335.89,165.66 L336.18,164.73 L336.5,163.98 L336.89,162.73 L337.34,161.19 L337.8,159.97 L338.2,159.74 L338.52,157.33 L338.79,156.72 L339.04,153.89 L339.3,152.13 L339.57,150.69 L339.85,148.29 L340.12,146.62 L340.4,145.53 L340.69,143.27 L340.99,140.92 L341.27,138.38 L341.5,136.66 L341.65,134.56 L341.75,131.8 L341.85,130.08 L342,127.28 L342.22,126.99 L342.47,125.43 L342.77,124.94 L343.1,123.83 L343.5,122.2 L343.95,120.75 L344.4,121.32 L344.8,119.7 L345.13,120.59 L345.43,121.22 L345.68,122.22 L345.9,123.98 L346.05,125.3 L346.15,125.12 L346.25,126.87 L346.4,127.68 L346.63,129.9 L346.91,131.76 L347.21,133.56 L347.5,135.46 L347.76,137.03 L348.01,139.42 L348.28,140.02 L348.6,141.05 L348.98,143.95 L349.41,146.08 L349.86,147.22 L350.3,148.62 L350.73,150.46 L351.16,151.98 L351.58,153.99 L352,155.15 L352.4,156.91 L352.8,158.42 L353.2,160.3 L353.6,162.02 L354.01,162.82 L354.41,163.14 L354.84,163.89 L355.3,164.74 L355.87,165.32 L356.51,165.86 L357.09,166.29 L357.5,166.6 L357.5,166.7 L335.5,166.7 Z" fill="#d6d6d6" stroke="none"/>
<path d="M335.5,166.6 L335.66,166.21 L335.89,165.66 L336.18,164.73 L336.5,163.98 L336.89,162.73 L337.34,161.19 L337.8,159.97 L338.2,159.74 L338.52,157.33 L338.79,156.72 L339.04,153.89 L339.3,152.13 L339.57,150.69 L339.85,148.29 L340.12,146.62 L340.4,145.53 L340.69,143.27 L340.99,140.92 L341.27,138.38 L341.5,136.66 L341.65,134.56 L341.75,131.8 L341.85,130.08 L342,127.28 L342.22,126.99 L342.47,125.43 L342.77,124.94 L343.1,123.83 L343.5,122.2 L343.95,120.75 L344.4,121.32 L344.8,119.7 L345.13,120.59 L345.43,121.22 L345.68,122.22 L345.9,123.98 L346.05,125.3 L346.15,125.12 L346.25,126.87 L346.4,127.68 L346.63,129.9 L346.91,131.76 L347.21,133.56 L347.5,135.46 L347.76,137.03 L348.01,139.42 L348.28,140.02 L348.6,141.05 L348.98,143.95 L349.41,146.08 L349.86,147.22 L350.3,148.62 L350.73,150.46 L351.16,151.98 L351.58,153.99 L352,155.15 L352.4,156.91 L352.8,158.42 L353.2,160.3 L353.6,162.02 L354.01,162.82 L354.41,163.14 L354.84,163.89 L355.3,164.74 L355.87,165.32 L356.51,165.86 L357.09,166.29 L357.5,166.6" fill="none" stroke="#151515" stroke-width="0.85" stroke-linejoin="miter"/>
<path d="M333.5,166.6 L333.65,166.37 L333.86,166.07 L334.1,165.56 L334.3,164.56 L334.45,163.28 L334.58,161.43 L334.72,159.84 L334.9,158.52 L335.14,155.13 L335.42,152.77 L335.71,150 L336,147.41 L336.29,143.86 L336.59,141.06 L336.87,138.26 L337.1,135.89 L337.26,133.67 L337.38,132.16 L337.48,130.14 L337.6,128.42 L337.75,125.87 L337.9,124.46 L338.05,123.93 L338.2,122.94 L338.32,121.28 L338.42,120.27 L338.54,118.69 L338.7,118.58 L338.93,119.21 L339.21,119.56 L339.51,120.14 L339.8,120.53 L340.07,119.46 L340.35,118.76 L340.62,118.34 L340.9,118.73 L341.19,119.46 L341.48,120.67 L341.76,121.56 L342,122.67 L342.19,123.99 L342.34,124.94 L342.47,126.47 L342.6,127.48 L342.72,130.17 L342.82,131.63 L342.94,134.51 L343.1,136.16 L343.32,137.53 L343.57,138.97 L343.87,140.7 L344.2,142.75 L344.57,144.47 L344.98,145.47 L345.43,147.07 L345.9,149.23 L346.41,150.99 L346.97,152.51 L347.54,153.99 L348.1,155.91 L348.64,156.54 L349.17,158 L349.71,159.23 L350.3,160.81 L350.93,161.49 L351.6,162.75 L352.29,163.23 L353,163.8 L353.8,164.59 L354.67,165.59 L355.45,166.18 L356,166.6" fill="none" stroke="#5e5e5e" stroke-width="0.75" stroke-linejoin="round"/>
<line x1="331.4" y1="104.6" x2="331.4" y2="166.7" stroke="#666" stroke-width="0.9"/>
<line x1="331.4" y1="166.7" x2="411.1" y2="166.7" stroke="#4a4a4a" stroke-width="1"/>
<line x1="329.8" y1="104.6" x2="331.4" y2="104.6" stroke="#999" stroke-width="0.5"/>
<line x1="329.8" y1="110.81" x2="331.4" y2="110.81" stroke="#999" stroke-width="0.5"/>
<line x1="329.8" y1="117.02" x2="331.4" y2="117.02" stroke="#999" stroke-width="0.5"/>
<line x1="329.8" y1="123.23" x2="331.4" y2="123.23" stroke="#999" stroke-width="0.5"/>
<line x1="329.8" y1="129.44" x2="331.4" y2="129.44" stroke="#999" stroke-width="0.5"/>
<line x1="329.8" y1="135.65" x2="331.4" y2="135.65" stroke="#999" stroke-width="0.5"/>
<line x1="329.8" y1="141.86" x2="331.4" y2="141.86" stroke="#999" stroke-width="0.5"/>
<line x1="329.8" y1="148.07" x2="331.4" y2="148.07" stroke="#999" stroke-width="0.5"/>
<line x1="329.8" y1="154.28" x2="331.4" y2="154.28" stroke="#999" stroke-width="0.5"/>
<line x1="329.8" y1="160.49" x2="331.4" y2="160.49" stroke="#999" stroke-width="0.5"/>
<line x1="329.8" y1="166.7" x2="331.4" y2="166.7" stroke="#999" stroke-width="0.5"/>
<line x1="331.4" y1="166.7" x2="331.4" y2="167.9" stroke="#888" stroke-width="0.5"/>
<text x="331" y="172" font-size="4.5" text-anchor="middle" fill="#4a4a4a">10<tspan font-size="3.1" dy="-1.5">0</tspan></text>
<line x1="337.36" y1="166.7" x2="337.36" y2="167.4" stroke="#aaa" stroke-width="0.35"/>
<line x1="340.85" y1="166.7" x2="340.85" y2="167.4" stroke="#aaa" stroke-width="0.35"/>
<line x1="343.32" y1="166.7" x2="343.32" y2="167.4" stroke="#aaa" stroke-width="0.35"/>
<line x1="345.24" y1="166.7" x2="345.24" y2="167.4" stroke="#aaa" stroke-width="0.35"/>
<line x1="346.81" y1="166.7" x2="346.81" y2="167.4" stroke="#aaa" stroke-width="0.35"/>
<line x1="348.13" y1="166.7" x2="348.13" y2="167.4" stroke="#aaa" stroke-width="0.35"/>
<line x1="349.28" y1="166.7" x2="349.28" y2="167.4" stroke="#aaa" stroke-width="0.35"/>
<line x1="350.29" y1="166.7" x2="350.29" y2="167.4" stroke="#aaa" stroke-width="0.35"/>
<line x1="351.2" y1="166.7" x2="351.2" y2="167.9" stroke="#888" stroke-width="0.5"/>
<text x="350.8" y="172" font-size="4.5" text-anchor="middle" fill="#4a4a4a">10<tspan font-size="3.1" dy="-1.5">1</tspan></text>
<line x1="357.16" y1="166.7" x2="357.16" y2="167.4" stroke="#aaa" stroke-width="0.35"/>
<line x1="360.65" y1="166.7" x2="360.65" y2="167.4" stroke="#aaa" stroke-width="0.35"/>
<line x1="363.12" y1="166.7" x2="363.12" y2="167.4" stroke="#aaa" stroke-width="0.35"/>
<line x1="365.04" y1="166.7" x2="365.04" y2="167.4" stroke="#aaa" stroke-width="0.35"/>
<line x1="366.61" y1="166.7" x2="366.61" y2="167.4" stroke="#aaa" stroke-width="0.35"/>
<line x1="367.93" y1="166.7" x2="367.93" y2="167.4" stroke="#aaa" stroke-width="0.35"/>
<line x1="369.08" y1="166.7" x2="369.08" y2="167.4" stroke="#aaa" stroke-width="0.35"/>
<line x1="370.09" y1="166.7" x2="370.09" y2="167.4" stroke="#aaa" stroke-width="0.35"/>
<line x1="371" y1="166.7" x2="371" y2="167.9" stroke="#888" stroke-width="0.5"/>
<text x="370.6" y="172" font-size="4.5" text-anchor="middle" fill="#4a4a4a">10<tspan font-size="3.1" dy="-1.5">2</tspan></text>
<line x1="376.96" y1="166.7" x2="376.96" y2="167.4" stroke="#aaa" stroke-width="0.35"/>
<line x1="380.45" y1="166.7" x2="380.45" y2="167.4" stroke="#aaa" stroke-width="0.35"/>
<line x1="382.92" y1="166.7" x2="382.92" y2="167.4" stroke="#aaa" stroke-width="0.35"/>
<line x1="384.84" y1="166.7" x2="384.84" y2="167.4" stroke="#aaa" stroke-width="0.35"/>
<line x1="386.41" y1="166.7" x2="386.41" y2="167.4" stroke="#aaa" stroke-width="0.35"/>
<line x1="387.73" y1="166.7" x2="387.73" y2="167.4" stroke="#aaa" stroke-width="0.35"/>
<line x1="388.88" y1="166.7" x2="388.88" y2="167.4" stroke="#aaa" stroke-width="0.35"/>
<line x1="389.89" y1="166.7" x2="389.89" y2="167.4" stroke="#aaa" stroke-width="0.35"/>
<line x1="390.8" y1="166.7" x2="390.8" y2="167.9" stroke="#888" stroke-width="0.5"/>
<text x="390.4" y="172" font-size="4.5" text-anchor="middle" fill="#4a4a4a">10<tspan font-size="3.1" dy="-1.5">3</tspan></text>
<line x1="396.76" y1="166.7" x2="396.76" y2="167.4" stroke="#aaa" stroke-width="0.35"/>
<line x1="400.25" y1="166.7" x2="400.25" y2="167.4" stroke="#aaa" stroke-width="0.35"/>
<line x1="402.72" y1="166.7" x2="402.72" y2="167.4" stroke="#aaa" stroke-width="0.35"/>
<line x1="404.64" y1="166.7" x2="404.64" y2="167.4" stroke="#aaa" stroke-width="0.35"/>
<line x1="406.21" y1="166.7" x2="406.21" y2="167.4" stroke="#aaa" stroke-width="0.35"/>
<line x1="407.53" y1="166.7" x2="407.53" y2="167.4" stroke="#aaa" stroke-width="0.35"/>
<line x1="408.68" y1="166.7" x2="408.68" y2="167.4" stroke="#aaa" stroke-width="0.35"/>
<line x1="409.69" y1="166.7" x2="409.69" y2="167.4" stroke="#aaa" stroke-width="0.35"/>
<line x1="410.6" y1="166.7" x2="410.6" y2="167.9" stroke="#888" stroke-width="0.5"/>
<text x="410.2" y="172" font-size="4.5" text-anchor="middle" fill="#4a4a4a">10<tspan font-size="3.1" dy="-1.5">4</tspan></text>
<path d="M428,166.6 L429.04,166.41 L430.52,166.14 L432.24,165.85 L434,165.6 L435.91,165.42 L438.02,165.27 L440.04,165.87 L441.7,165.33 L442.81,164.59 L443.55,164.05 L444.19,164.7 L445,164.78 L446.07,164.02 L447.25,163.31 L448.43,163.49 L449.5,163.48 L450.45,161.99 L451.33,161.34 L452.12,161.51 L452.8,161.37 L453.27,161.63 L453.57,160.77 L453.89,161.62 L454.4,161.28 L455.2,160.49 L456.17,159.48 L457.18,160.1 L458.1,158.4 L458.88,158.52 L459.59,156.81 L460.29,156.02 L461,156.12 L461.75,154.59 L462.5,154.83 L463.25,153.36 L464,152.3 L464.73,152.03 L465.45,152.19 L466.17,152.49 L466.9,152.82 L467.65,151.34 L468.4,151.53 L469.15,151.04 L469.9,152.06 L470.64,150.55 L471.38,150.23 L472.11,150.07 L472.8,150.43 L473.48,150.94 L474.16,150.54 L474.78,150.09 L475.3,150.7 L475.69,151.38 L475.97,151.65 L476.22,152.73 L476.5,155 L476.83,155.38 L477.18,154.74 L477.54,156.22 L477.9,156.31 L478.27,156.97 L478.64,157.63 L479.02,158.12 L479.4,158.6 L479.76,159.79 L480.11,160.66 L480.48,162.38 L480.9,161.8 L481.37,163.91 L481.86,163.49 L482.43,164.46 L483.1,165.3 L484.01,165.77 L485.09,166.13 L486.1,166.4 L486.8,166.6 L486.8,166.7 L428,166.7 Z" fill="#d6d6d6" stroke="none"/>
<path d="M428,166.6 L429.04,166.41 L430.52,166.14 L432.24,165.85 L434,165.6 L435.91,165.42 L438.02,165.27 L440.04,165.87 L441.7,165.33 L442.81,164.59 L443.55,164.05 L444.19,164.7 L445,164.78 L446.07,164.02 L447.25,163.31 L448.43,163.49 L449.5,163.48 L450.45,161.99 L451.33,161.34 L452.12,161.51 L452.8,161.37 L453.27,161.63 L453.57,160.77 L453.89,161.62 L454.4,161.28 L455.2,160.49 L456.17,159.48 L457.18,160.1 L458.1,158.4 L458.88,158.52 L459.59,156.81 L460.29,156.02 L461,156.12 L461.75,154.59 L462.5,154.83 L463.25,153.36 L464,152.3 L464.73,152.03 L465.45,152.19 L466.17,152.49 L466.9,152.82 L467.65,151.34 L468.4,151.53 L469.15,151.04 L469.9,152.06 L470.64,150.55 L471.38,150.23 L472.11,150.07 L472.8,150.43 L473.48,150.94 L474.16,150.54 L474.78,150.09 L475.3,150.7 L475.69,151.38 L475.97,151.65 L476.22,152.73 L476.5,155 L476.83,155.38 L477.18,154.74 L477.54,156.22 L477.9,156.31 L478.27,156.97 L478.64,157.63 L479.02,158.12 L479.4,158.6 L479.76,159.79 L480.11,160.66 L480.48,162.38 L480.9,161.8 L481.37,163.91 L481.86,163.49 L482.43,164.46 L483.1,165.3 L484.01,165.77 L485.09,166.13 L486.1,166.4 L486.8,166.6" fill="none" stroke="#151515" stroke-width="0.85" stroke-linejoin="miter"/>
<path d="M425,166.6 L425.03,166.53 L425.06,166.45 L425.12,166.2 L425.2,165.6 L425.31,165.01 L425.44,163.79 L425.61,161.81 L425.8,159.5 L426.04,157.55 L426.32,154.57 L426.61,152.21 L426.9,148.66 L427.17,146.39 L427.45,144.63 L427.72,141.47 L428,139.9 L428.27,138.65 L428.55,137.15 L428.82,134.96 L429.1,133.48 L429.38,131.9 L429.65,131.21 L429.93,128.79 L430.2,127.68 L430.47,125.89 L430.75,123.09 L431.02,121.27 L431.3,121.31 L431.57,121.65 L431.85,123.01 L432.13,125.68 L432.4,127.19 L432.67,128.81 L432.95,130.18 L433.22,132.68 L433.5,134.47 L433.77,135.67 L434.05,137.48 L434.32,137.92 L434.6,139.7 L434.86,141.59 L435.12,143.81 L435.39,145.53 L435.7,146.67 L436.05,148.41 L436.43,150.58 L436.85,152.62 L437.3,154.98 L437.81,155.97 L438.36,158.46 L438.94,160.05 L439.5,161.56 L440.04,162.62 L440.56,163.31 L441.11,163.7 L441.7,164.3 L442.36,164.82 L443.08,165.31 L443.81,165.56 L444.5,165.8 L445.2,166.05 L445.93,166.28 L446.56,166.47 L447,166.6" fill="none" stroke="#5e5e5e" stroke-width="0.75" stroke-linejoin="round"/>
<line x1="423.5" y1="104.6" x2="423.5" y2="166.7" stroke="#666" stroke-width="0.9"/>
<line x1="423.5" y1="166.7" x2="503.2" y2="166.7" stroke="#4a4a4a" stroke-width="1"/>
<line x1="421.9" y1="104.6" x2="423.5" y2="104.6" stroke="#999" stroke-width="0.5"/>
<line x1="421.9" y1="110.81" x2="423.5" y2="110.81" stroke="#999" stroke-width="0.5"/>
<line x1="421.9" y1="117.02" x2="423.5" y2="117.02" stroke="#999" stroke-width="0.5"/>
<line x1="421.9" y1="123.23" x2="423.5" y2="123.23" stroke="#999" stroke-width="0.5"/>
<line x1="421.9" y1="129.44" x2="423.5" y2="129.44" stroke="#999" stroke-width="0.5"/>
<line x1="421.9" y1="135.65" x2="423.5" y2="135.65" stroke="#999" stroke-width="0.5"/>
<line x1="421.9" y1="141.86" x2="423.5" y2="141.86" stroke="#999" stroke-width="0.5"/>
<line x1="421.9" y1="148.07" x2="423.5" y2="148.07" stroke="#999" stroke-width="0.5"/>
<line x1="421.9" y1="154.28" x2="423.5" y2="154.28" stroke="#999" stroke-width="0.5"/>
<line x1="421.9" y1="160.49" x2="423.5" y2="160.49" stroke="#999" stroke-width="0.5"/>
<line x1="421.9" y1="166.7" x2="423.5" y2="166.7" stroke="#999" stroke-width="0.5"/>
<line x1="423.5" y1="166.7" x2="423.5" y2="167.9" stroke="#888" stroke-width="0.5"/>
<text x="423.1" y="172" font-size="4.5" text-anchor="middle" fill="#4a4a4a">10<tspan font-size="3.1" dy="-1.5">0</tspan></text>
<line x1="429.46" y1="166.7" x2="429.46" y2="167.4" stroke="#aaa" stroke-width="0.35"/>
<line x1="432.95" y1="166.7" x2="432.95" y2="167.4" stroke="#aaa" stroke-width="0.35"/>
<line x1="435.42" y1="166.7" x2="435.42" y2="167.4" stroke="#aaa" stroke-width="0.35"/>
<line x1="437.34" y1="166.7" x2="437.34" y2="167.4" stroke="#aaa" stroke-width="0.35"/>
<line x1="438.91" y1="166.7" x2="438.91" y2="167.4" stroke="#aaa" stroke-width="0.35"/>
<line x1="440.23" y1="166.7" x2="440.23" y2="167.4" stroke="#aaa" stroke-width="0.35"/>
<line x1="441.38" y1="166.7" x2="441.38" y2="167.4" stroke="#aaa" stroke-width="0.35"/>
<line x1="442.39" y1="166.7" x2="442.39" y2="167.4" stroke="#aaa" stroke-width="0.35"/>
<line x1="443.3" y1="166.7" x2="443.3" y2="167.9" stroke="#888" stroke-width="0.5"/>
<text x="442.9" y="172" font-size="4.5" text-anchor="middle" fill="#4a4a4a">10<tspan font-size="3.1" dy="-1.5">1</tspan></text>
<line x1="449.26" y1="166.7" x2="449.26" y2="167.4" stroke="#aaa" stroke-width="0.35"/>
<line x1="452.75" y1="166.7" x2="452.75" y2="167.4" stroke="#aaa" stroke-width="0.35"/>
<line x1="455.22" y1="166.7" x2="455.22" y2="167.4" stroke="#aaa" stroke-width="0.35"/>
<line x1="457.14" y1="166.7" x2="457.14" y2="167.4" stroke="#aaa" stroke-width="0.35"/>
<line x1="458.71" y1="166.7" x2="458.71" y2="167.4" stroke="#aaa" stroke-width="0.35"/>
<line x1="460.03" y1="166.7" x2="460.03" y2="167.4" stroke="#aaa" stroke-width="0.35"/>
<line x1="461.18" y1="166.7" x2="461.18" y2="167.4" stroke="#aaa" stroke-width="0.35"/>
<line x1="462.19" y1="166.7" x2="462.19" y2="167.4" stroke="#aaa" stroke-width="0.35"/>
<line x1="463.1" y1="166.7" x2="463.1" y2="167.9" stroke="#888" stroke-width="0.5"/>
<text x="462.7" y="172" font-size="4.5" text-anchor="middle" fill="#4a4a4a">10<tspan font-size="3.1" dy="-1.5">2</tspan></text>
<line x1="469.06" y1="166.7" x2="469.06" y2="167.4" stroke="#aaa" stroke-width="0.35"/>
<line x1="472.55" y1="166.7" x2="472.55" y2="167.4" stroke="#aaa" stroke-width="0.35"/>
<line x1="475.02" y1="166.7" x2="475.02" y2="167.4" stroke="#aaa" stroke-width="0.35"/>
<line x1="476.94" y1="166.7" x2="476.94" y2="167.4" stroke="#aaa" stroke-width="0.35"/>
<line x1="478.51" y1="166.7" x2="478.51" y2="167.4" stroke="#aaa" stroke-width="0.35"/>
<line x1="479.83" y1="166.7" x2="479.83" y2="167.4" stroke="#aaa" stroke-width="0.35"/>
<line x1="480.98" y1="166.7" x2="480.98" y2="167.4" stroke="#aaa" stroke-width="0.35"/>
<line x1="481.99" y1="166.7" x2="481.99" y2="167.4" stroke="#aaa" stroke-width="0.35"/>
<line x1="482.9" y1="166.7" x2="482.9" y2="167.9" stroke="#888" stroke-width="0.5"/>
<text x="482.5" y="172" font-size="4.5" text-anchor="middle" fill="#4a4a4a">10<tspan font-size="3.1" dy="-1.5">3</tspan></text>
<line x1="488.86" y1="166.7" x2="488.86" y2="167.4" stroke="#aaa" stroke-width="0.35"/>
<line x1="492.35" y1="166.7" x2="492.35" y2="167.4" stroke="#aaa" stroke-width="0.35"/>
<line x1="494.82" y1="166.7" x2="494.82" y2="167.4" stroke="#aaa" stroke-width="0.35"/>
<line x1="496.74" y1="166.7" x2="496.74" y2="167.4" stroke="#aaa" stroke-width="0.35"/>
<line x1="498.31" y1="166.7" x2="498.31" y2="167.4" stroke="#aaa" stroke-width="0.35"/>
<line x1="499.63" y1="166.7" x2="499.63" y2="167.4" stroke="#aaa" stroke-width="0.35"/>
<line x1="500.78" y1="166.7" x2="500.78" y2="167.4" stroke="#aaa" stroke-width="0.35"/>
<line x1="501.79" y1="166.7" x2="501.79" y2="167.4" stroke="#aaa" stroke-width="0.35"/>
<line x1="502.7" y1="166.7" x2="502.7" y2="167.9" stroke="#888" stroke-width="0.5"/>
<text x="502.3" y="172" font-size="4.5" text-anchor="middle" fill="#4a4a4a">10<tspan font-size="3.1" dy="-1.5">4</tspan></text>
<path d="M239,241.5 L239.2,241.43 L239.49,241.34 L239.84,241.09 L240.2,240.5 L240.59,240 L241.02,237.64 L241.47,236.31 L241.9,235.4 L242.33,232.33 L242.77,229.35 L243.17,226.6 L243.5,225.08 L243.71,222.9 L243.83,222.41 L243.94,220.83 L244.1,219.48 L244.34,216.65 L244.62,214.63 L244.91,212.95 L245.2,212 L245.47,210.88 L245.75,209.09 L246.03,207.42 L246.3,206.37 L246.58,205.29 L246.85,203.96 L247.13,202.69 L247.4,201.56 L247.66,199.85 L247.92,197.51 L248.19,197.52 L248.5,196.27 L248.88,197.41 L249.3,198.6 L249.72,200.95 L250.1,201.62 L250.41,202.85 L250.68,203.89 L250.94,204.79 L251.2,207.11 L251.47,207.93 L251.75,208.93 L252.03,210.47 L252.3,212.79 L252.56,213.28 L252.81,214.05 L253.08,216.2 L253.4,217.25 L253.8,219.19 L254.25,219.23 L254.7,221.31 L255.1,223.31 L255.41,224.74 L255.66,226.23 L255.9,226.2 L256.2,227.97 L256.55,229.09 L256.93,230.62 L257.35,233.25 L257.8,233.93 L258.28,235.73 L258.79,236.02 L259.35,237.91 L260,238.22 L260.76,238.77 L261.61,240.34 L262.51,240.52 L263.4,241 L264.37,241.29 L265.41,241.42 L266.35,241.46 L267,241.5 L267,241.6 L239,241.6 Z" fill="#d6d6d6" stroke="none"/>
<path d="M239,241.5 L239.2,241.43 L239.49,241.34 L239.84,241.09 L240.2,240.5 L240.59,240 L241.02,237.64 L241.47,236.31 L241.9,235.4 L242.33,232.33 L242.77,229.35 L243.17,226.6 L243.5,225.08 L243.71,222.9 L243.83,222.41 L243.94,220.83 L244.1,219.48 L244.34,216.65 L244.62,214.63 L244.91,212.95 L245.2,212 L245.47,210.88 L245.75,209.09 L246.03,207.42 L246.3,206.37 L246.58,205.29 L246.85,203.96 L247.13,202.69 L247.4,201.56 L247.66,199.85 L247.92,197.51 L248.19,197.52 L248.5,196.27 L248.88,197.41 L249.3,198.6 L249.72,200.95 L250.1,201.62 L250.41,202.85 L250.68,203.89 L250.94,204.79 L251.2,207.11 L251.47,207.93 L251.75,208.93 L252.03,210.47 L252.3,212.79 L252.56,213.28 L252.81,214.05 L253.08,216.2 L253.4,217.25 L253.8,219.19 L254.25,219.23 L254.7,221.31 L255.1,223.31 L255.41,224.74 L255.66,226.23 L255.9,226.2 L256.2,227.97 L256.55,229.09 L256.93,230.62 L257.35,233.25 L257.8,233.93 L258.28,235.73 L258.79,236.02 L259.35,237.91 L260,238.22 L260.76,238.77 L261.61,240.34 L262.51,240.52 L263.4,241 L264.37,241.29 L265.41,241.42 L266.35,241.46 L267,241.5" fill="none" stroke="#151515" stroke-width="0.85" stroke-linejoin="miter"/>
<path d="M238.7,241.5 L238.88,241.43 L239.14,241.34 L239.46,241.09 L239.8,240.5 L240.19,240.05 L240.62,237.87 L241.07,236.9 L241.5,235.13 L241.93,232.41 L242.37,229.9 L242.77,226.94 L243.1,224.67 L243.31,222.9 L243.43,221.76 L243.54,220.39 L243.7,218.37 L243.94,216.48 L244.22,215.11 L244.51,213.8 L244.8,211.65 L245.08,210.33 L245.35,208.84 L245.63,208.18 L245.9,206.55 L246.17,204.61 L246.44,203.22 L246.72,202.17 L247,201.06 L247.28,199.79 L247.57,197.77 L247.87,196.77 L248.2,197.02 L248.58,197.38 L249.01,198.67 L249.43,200.4 L249.8,202.61 L250.11,203.03 L250.38,204.36 L250.64,205.18 L250.9,206.41 L251.18,208.22 L251.46,209.77 L251.73,210.48 L252,211.66 L252.24,213.52 L252.46,214.15 L252.7,215.15 L253,217.45 L253.39,218.32 L253.84,220.23 L254.3,221.25 L254.7,223.23 L255.01,224.15 L255.26,225.19 L255.5,226.39 L255.8,228.36 L256.15,229.86 L256.53,231.57 L256.95,232.04 L257.4,233.94 L257.88,234.89 L258.39,236.23 L258.95,236.93 L259.6,238.06 L260.36,239.18 L261.22,240.38 L262.11,240.52 L263,241 L263.95,241.29 L264.96,241.42 L265.87,241.46 L266.5,241.5" fill="none" stroke="#5e5e5e" stroke-width="0.75" stroke-linejoin="round"/>
<line x1="238.2" y1="179" x2="238.2" y2="241.6" stroke="#666" stroke-width="0.9"/>
<line x1="238.2" y1="241.6" x2="317.9" y2="241.6" stroke="#4a4a4a" stroke-width="1"/>
<line x1="236.6" y1="179" x2="238.2" y2="179" stroke="#999" stroke-width="0.5"/>
<line x1="236.6" y1="185.26" x2="238.2" y2="185.26" stroke="#999" stroke-width="0.5"/>
<line x1="236.6" y1="191.52" x2="238.2" y2="191.52" stroke="#999" stroke-width="0.5"/>
<line x1="236.6" y1="197.78" x2="238.2" y2="197.78" stroke="#999" stroke-width="0.5"/>
<line x1="236.6" y1="204.04" x2="238.2" y2="204.04" stroke="#999" stroke-width="0.5"/>
<line x1="236.6" y1="210.3" x2="238.2" y2="210.3" stroke="#999" stroke-width="0.5"/>
<line x1="236.6" y1="216.56" x2="238.2" y2="216.56" stroke="#999" stroke-width="0.5"/>
<line x1="236.6" y1="222.82" x2="238.2" y2="222.82" stroke="#999" stroke-width="0.5"/>
<line x1="236.6" y1="229.08" x2="238.2" y2="229.08" stroke="#999" stroke-width="0.5"/>
<line x1="236.6" y1="235.34" x2="238.2" y2="235.34" stroke="#999" stroke-width="0.5"/>
<line x1="236.6" y1="241.6" x2="238.2" y2="241.6" stroke="#999" stroke-width="0.5"/>
<line x1="238.2" y1="241.6" x2="238.2" y2="242.8" stroke="#888" stroke-width="0.5"/>
<text x="237.8" y="246.9" font-size="4.5" text-anchor="middle" fill="#4a4a4a">10<tspan font-size="3.1" dy="-1.5">0</tspan></text>
<line x1="244.16" y1="241.6" x2="244.16" y2="242.3" stroke="#aaa" stroke-width="0.35"/>
<line x1="247.65" y1="241.6" x2="247.65" y2="242.3" stroke="#aaa" stroke-width="0.35"/>
<line x1="250.12" y1="241.6" x2="250.12" y2="242.3" stroke="#aaa" stroke-width="0.35"/>
<line x1="252.04" y1="241.6" x2="252.04" y2="242.3" stroke="#aaa" stroke-width="0.35"/>
<line x1="253.61" y1="241.6" x2="253.61" y2="242.3" stroke="#aaa" stroke-width="0.35"/>
<line x1="254.93" y1="241.6" x2="254.93" y2="242.3" stroke="#aaa" stroke-width="0.35"/>
<line x1="256.08" y1="241.6" x2="256.08" y2="242.3" stroke="#aaa" stroke-width="0.35"/>
<line x1="257.09" y1="241.6" x2="257.09" y2="242.3" stroke="#aaa" stroke-width="0.35"/>
<line x1="258" y1="241.6" x2="258" y2="242.8" stroke="#888" stroke-width="0.5"/>
<text x="257.6" y="246.9" font-size="4.5" text-anchor="middle" fill="#4a4a4a">10<tspan font-size="3.1" dy="-1.5">1</tspan></text>
<line x1="263.96" y1="241.6" x2="263.96" y2="242.3" stroke="#aaa" stroke-width="0.35"/>
<line x1="267.45" y1="241.6" x2="267.45" y2="242.3" stroke="#aaa" stroke-width="0.35"/>
<line x1="269.92" y1="241.6" x2="269.92" y2="242.3" stroke="#aaa" stroke-width="0.35"/>
<line x1="271.84" y1="241.6" x2="271.84" y2="242.3" stroke="#aaa" stroke-width="0.35"/>
<line x1="273.41" y1="241.6" x2="273.41" y2="242.3" stroke="#aaa" stroke-width="0.35"/>
<line x1="274.73" y1="241.6" x2="274.73" y2="242.3" stroke="#aaa" stroke-width="0.35"/>
<line x1="275.88" y1="241.6" x2="275.88" y2="242.3" stroke="#aaa" stroke-width="0.35"/>
<line x1="276.89" y1="241.6" x2="276.89" y2="242.3" stroke="#aaa" stroke-width="0.35"/>
<line x1="277.8" y1="241.6" x2="277.8" y2="242.8" stroke="#888" stroke-width="0.5"/>
<text x="277.4" y="246.9" font-size="4.5" text-anchor="middle" fill="#4a4a4a">10<tspan font-size="3.1" dy="-1.5">2</tspan></text>
<line x1="283.76" y1="241.6" x2="283.76" y2="242.3" stroke="#aaa" stroke-width="0.35"/>
<line x1="287.25" y1="241.6" x2="287.25" y2="242.3" stroke="#aaa" stroke-width="0.35"/>
<line x1="289.72" y1="241.6" x2="289.72" y2="242.3" stroke="#aaa" stroke-width="0.35"/>
<line x1="291.64" y1="241.6" x2="291.64" y2="242.3" stroke="#aaa" stroke-width="0.35"/>
<line x1="293.21" y1="241.6" x2="293.21" y2="242.3" stroke="#aaa" stroke-width="0.35"/>
<line x1="294.53" y1="241.6" x2="294.53" y2="242.3" stroke="#aaa" stroke-width="0.35"/>
<line x1="295.68" y1="241.6" x2="295.68" y2="242.3" stroke="#aaa" stroke-width="0.35"/>
<line x1="296.69" y1="241.6" x2="296.69" y2="242.3" stroke="#aaa" stroke-width="0.35"/>
<line x1="297.6" y1="241.6" x2="297.6" y2="242.8" stroke="#888" stroke-width="0.5"/>
<text x="297.2" y="246.9" font-size="4.5" text-anchor="middle" fill="#4a4a4a">10<tspan font-size="3.1" dy="-1.5">3</tspan></text>
<line x1="303.56" y1="241.6" x2="303.56" y2="242.3" stroke="#aaa" stroke-width="0.35"/>
<line x1="307.05" y1="241.6" x2="307.05" y2="242.3" stroke="#aaa" stroke-width="0.35"/>
<line x1="309.52" y1="241.6" x2="309.52" y2="242.3" stroke="#aaa" stroke-width="0.35"/>
<line x1="311.44" y1="241.6" x2="311.44" y2="242.3" stroke="#aaa" stroke-width="0.35"/>
<line x1="313.01" y1="241.6" x2="313.01" y2="242.3" stroke="#aaa" stroke-width="0.35"/>
<line x1="314.33" y1="241.6" x2="314.33" y2="242.3" stroke="#aaa" stroke-width="0.35"/>
<line x1="315.48" y1="241.6" x2="315.48" y2="242.3" stroke="#aaa" stroke-width="0.35"/>
<line x1="316.49" y1="241.6" x2="316.49" y2="242.3" stroke="#aaa" stroke-width="0.35"/>
<line x1="317.4" y1="241.6" x2="317.4" y2="242.8" stroke="#888" stroke-width="0.5"/>
<text x="317" y="246.9" font-size="4.5" text-anchor="middle" fill="#4a4a4a">10<tspan font-size="3.1" dy="-1.5">4</tspan></text>
<path d="M332,241.5 L332.2,241.43 L332.49,241.34 L332.84,241.09 L333.2,240.5 L333.59,238.92 L334.02,238.3 L334.47,237.28 L334.9,235.75 L335.32,232.3 L335.74,229.59 L336.14,228.21 L336.5,225.76 L336.81,222.73 L337.08,219.9 L337.34,219.22 L337.6,216.32 L337.89,215.09 L338.18,212.61 L338.46,210.99 L338.7,208.16 L338.86,207.62 L338.97,205.36 L339.09,204.37 L339.3,203.75 L339.63,202.12 L340.03,199.32 L340.47,197.93 L340.9,197.54 L341.33,198.11 L341.78,199.03 L342.21,200.09 L342.6,201.7 L342.92,203.78 L343.19,205.49 L343.44,205.54 L343.7,207.7 L343.97,209.19 L344.25,209.12 L344.52,211.46 L344.8,211.39 L345.06,213.24 L345.32,214.21 L345.59,215.45 L345.9,216.19 L346.28,217.87 L346.7,219.79 L347.12,221.2 L347.5,223.05 L347.8,223.92 L348.04,224.95 L348.29,225.3 L348.6,227.39 L348.97,228.49 L349.38,229.49 L349.83,231.76 L350.3,233.15 L350.8,233.97 L351.33,234.86 L351.9,236.57 L352.5,237.07 L353.14,238 L353.81,239.24 L354.52,239.32 L355.3,240.5 L356.25,240.9 L357.33,241.18 L358.31,241.36 L359,241.5 L359,241.6 L332,241.6 Z" fill="#d6d6d6" stroke="none"/>
<path d="M332,241.5 L332.2,241.43 L332.49,241.34 L332.84,241.09 L333.2,240.5 L333.59,238.92 L334.02,238.3 L334.47,237.28 L334.9,235.75 L335.32,232.3 L335.74,229.59 L336.14,228.21 L336.5,225.76 L336.81,222.73 L337.08,219.9 L337.34,219.22 L337.6,216.32 L337.89,215.09 L338.18,212.61 L338.46,210.99 L338.7,208.16 L338.86,207.62 L338.97,205.36 L339.09,204.37 L339.3,203.75 L339.63,202.12 L340.03,199.32 L340.47,197.93 L340.9,197.54 L341.33,198.11 L341.78,199.03 L342.21,200.09 L342.6,201.7 L342.92,203.78 L343.19,205.49 L343.44,205.54 L343.7,207.7 L343.97,209.19 L344.25,209.12 L344.52,211.46 L344.8,211.39 L345.06,213.24 L345.32,214.21 L345.59,215.45 L345.9,216.19 L346.28,217.87 L346.7,219.79 L347.12,221.2 L347.5,223.05 L347.8,223.92 L348.04,224.95 L348.29,225.3 L348.6,227.39 L348.97,228.49 L349.38,229.49 L349.83,231.76 L350.3,233.15 L350.8,233.97 L351.33,234.86 L351.9,236.57 L352.5,237.07 L353.14,238 L353.81,239.24 L354.52,239.32 L355.3,240.5 L356.25,240.9 L357.33,241.18 L358.31,241.36 L359,241.5" fill="none" stroke="#151515" stroke-width="0.85" stroke-linejoin="miter"/>
<path d="M331.6,241.5 L331.8,241.43 L332.09,241.34 L332.44,241.09 L332.8,240.5 L333.19,239.48 L333.62,238.32 L334.07,236.28 L334.5,235.15 L334.92,232.31 L335.34,230.45 L335.74,227.81 L336.1,225.01 L336.41,222.25 L336.68,220.62 L336.94,218.4 L337.2,217 L337.49,214.04 L337.78,212.81 L338.06,211.03 L338.3,208.96 L338.46,207.51 L338.56,205.45 L338.68,205.05 L338.9,203.19 L339.25,202.15 L339.69,200.41 L340.16,198.18 L340.6,198.22 L341.02,198.73 L341.44,198.84 L341.84,200.57 L342.2,202.39 L342.51,203.03 L342.78,205.28 L343.04,206.02 L343.3,207.95 L343.57,208.38 L343.85,209.86 L344.13,211.39 L344.4,211.67 L344.66,212.81 L344.92,214.14 L345.19,215.04 L345.5,215.98 L345.88,217.64 L346.3,219.28 L346.72,221.81 L347.1,223 L347.4,224.45 L347.64,224.68 L347.89,226.39 L348.2,226.77 L348.57,228.54 L348.98,230.07 L349.43,231.18 L349.9,233.12 L350.4,234.1 L350.93,235.46 L351.5,237.04 L352.1,237.26 L352.74,239.15 L353.41,239.5 L354.13,239.86 L354.9,240.5 L355.83,240.9 L356.87,241.18 L357.83,241.36 L358.5,241.5" fill="none" stroke="#5e5e5e" stroke-width="0.75" stroke-linejoin="round"/>
<line x1="331.4" y1="179" x2="331.4" y2="241.6" stroke="#666" stroke-width="0.9"/>
<line x1="331.4" y1="241.6" x2="411.1" y2="241.6" stroke="#4a4a4a" stroke-width="1"/>
<line x1="329.8" y1="179" x2="331.4" y2="179" stroke="#999" stroke-width="0.5"/>
<line x1="329.8" y1="185.26" x2="331.4" y2="185.26" stroke="#999" stroke-width="0.5"/>
<line x1="329.8" y1="191.52" x2="331.4" y2="191.52" stroke="#999" stroke-width="0.5"/>
<line x1="329.8" y1="197.78" x2="331.4" y2="197.78" stroke="#999" stroke-width="0.5"/>
<line x1="329.8" y1="204.04" x2="331.4" y2="204.04" stroke="#999" stroke-width="0.5"/>
<line x1="329.8" y1="210.3" x2="331.4" y2="210.3" stroke="#999" stroke-width="0.5"/>
<line x1="329.8" y1="216.56" x2="331.4" y2="216.56" stroke="#999" stroke-width="0.5"/>
<line x1="329.8" y1="222.82" x2="331.4" y2="222.82" stroke="#999" stroke-width="0.5"/>
<line x1="329.8" y1="229.08" x2="331.4" y2="229.08" stroke="#999" stroke-width="0.5"/>
<line x1="329.8" y1="235.34" x2="331.4" y2="235.34" stroke="#999" stroke-width="0.5"/>
<line x1="329.8" y1="241.6" x2="331.4" y2="241.6" stroke="#999" stroke-width="0.5"/>
<line x1="331.4" y1="241.6" x2="331.4" y2="242.8" stroke="#888" stroke-width="0.5"/>
<text x="331" y="246.9" font-size="4.5" text-anchor="middle" fill="#4a4a4a">10<tspan font-size="3.1" dy="-1.5">0</tspan></text>
<line x1="337.36" y1="241.6" x2="337.36" y2="242.3" stroke="#aaa" stroke-width="0.35"/>
<line x1="340.85" y1="241.6" x2="340.85" y2="242.3" stroke="#aaa" stroke-width="0.35"/>
<line x1="343.32" y1="241.6" x2="343.32" y2="242.3" stroke="#aaa" stroke-width="0.35"/>
<line x1="345.24" y1="241.6" x2="345.24" y2="242.3" stroke="#aaa" stroke-width="0.35"/>
<line x1="346.81" y1="241.6" x2="346.81" y2="242.3" stroke="#aaa" stroke-width="0.35"/>
<line x1="348.13" y1="241.6" x2="348.13" y2="242.3" stroke="#aaa" stroke-width="0.35"/>
<line x1="349.28" y1="241.6" x2="349.28" y2="242.3" stroke="#aaa" stroke-width="0.35"/>
<line x1="350.29" y1="241.6" x2="350.29" y2="242.3" stroke="#aaa" stroke-width="0.35"/>
<line x1="351.2" y1="241.6" x2="351.2" y2="242.8" stroke="#888" stroke-width="0.5"/>
<text x="350.8" y="246.9" font-size="4.5" text-anchor="middle" fill="#4a4a4a">10<tspan font-size="3.1" dy="-1.5">1</tspan></text>
<line x1="357.16" y1="241.6" x2="357.16" y2="242.3" stroke="#aaa" stroke-width="0.35"/>
<line x1="360.65" y1="241.6" x2="360.65" y2="242.3" stroke="#aaa" stroke-width="0.35"/>
<line x1="363.12" y1="241.6" x2="363.12" y2="242.3" stroke="#aaa" stroke-width="0.35"/>
<line x1="365.04" y1="241.6" x2="365.04" y2="242.3" stroke="#aaa" stroke-width="0.35"/>
<line x1="366.61" y1="241.6" x2="366.61" y2="242.3" stroke="#aaa" stroke-width="0.35"/>
<line x1="367.93" y1="241.6" x2="367.93" y2="242.3" stroke="#aaa" stroke-width="0.35"/>
<line x1="369.08" y1="241.6" x2="369.08" y2="242.3" stroke="#aaa" stroke-width="0.35"/>
<line x1="370.09" y1="241.6" x2="370.09" y2="242.3" stroke="#aaa" stroke-width="0.35"/>
<line x1="371" y1="241.6" x2="371" y2="242.8" stroke="#888" stroke-width="0.5"/>
<text x="370.6" y="246.9" font-size="4.5" text-anchor="middle" fill="#4a4a4a">10<tspan font-size="3.1" dy="-1.5">2</tspan></text>
<line x1="376.96" y1="241.6" x2="376.96" y2="242.3" stroke="#aaa" stroke-width="0.35"/>
<line x1="380.45" y1="241.6" x2="380.45" y2="242.3" stroke="#aaa" stroke-width="0.35"/>
<line x1="382.92" y1="241.6" x2="382.92" y2="242.3" stroke="#aaa" stroke-width="0.35"/>
<line x1="384.84" y1="241.6" x2="384.84" y2="242.3" stroke="#aaa" stroke-width="0.35"/>
<line x1="386.41" y1="241.6" x2="386.41" y2="242.3" stroke="#aaa" stroke-width="0.35"/>
<line x1="387.73" y1="241.6" x2="387.73" y2="242.3" stroke="#aaa" stroke-width="0.35"/>
<line x1="388.88" y1="241.6" x2="388.88" y2="242.3" stroke="#aaa" stroke-width="0.35"/>
<line x1="389.89" y1="241.6" x2="389.89" y2="242.3" stroke="#aaa" stroke-width="0.35"/>
<line x1="390.8" y1="241.6" x2="390.8" y2="242.8" stroke="#888" stroke-width="0.5"/>
<text x="390.4" y="246.9" font-size="4.5" text-anchor="middle" fill="#4a4a4a">10<tspan font-size="3.1" dy="-1.5">3</tspan></text>
<line x1="396.76" y1="241.6" x2="396.76" y2="242.3" stroke="#aaa" stroke-width="0.35"/>
<line x1="400.25" y1="241.6" x2="400.25" y2="242.3" stroke="#aaa" stroke-width="0.35"/>
<line x1="402.72" y1="241.6" x2="402.72" y2="242.3" stroke="#aaa" stroke-width="0.35"/>
<line x1="404.64" y1="241.6" x2="404.64" y2="242.3" stroke="#aaa" stroke-width="0.35"/>
<line x1="406.21" y1="241.6" x2="406.21" y2="242.3" stroke="#aaa" stroke-width="0.35"/>
<line x1="407.53" y1="241.6" x2="407.53" y2="242.3" stroke="#aaa" stroke-width="0.35"/>
<line x1="408.68" y1="241.6" x2="408.68" y2="242.3" stroke="#aaa" stroke-width="0.35"/>
<line x1="409.69" y1="241.6" x2="409.69" y2="242.3" stroke="#aaa" stroke-width="0.35"/>
<line x1="410.6" y1="241.6" x2="410.6" y2="242.8" stroke="#888" stroke-width="0.5"/>
<text x="410.2" y="246.9" font-size="4.5" text-anchor="middle" fill="#4a4a4a">10<tspan font-size="3.1" dy="-1.5">4</tspan></text>
<path d="M424.7,241.6 L425.2,241.04 L425.91,240.23 L426.7,239.76 L427.4,237.92 L427.99,238.05 L428.53,236.27 L429.06,234.76 L429.6,234.22 L430.15,232.45 L430.7,230.69 L431.25,230.33 L431.8,228.18 L432.35,228.67 L432.9,227.24 L433.45,227.41 L434,227.47 L434.56,226.24 L435.13,225.72 L435.69,224.6 L436.2,223.7 L436.66,223.57 L437.09,223.73 L437.49,224.56 L437.9,224.39 L438.3,224.67 L438.7,225.48 L439.1,224.56 L439.5,225.16 L439.91,226.56 L440.31,226.45 L440.74,227.35 L441.2,228.67 L441.71,228.79 L442.27,229.57 L442.84,229.69 L443.4,230.63 L443.96,231.07 L444.53,230.91 L445.09,232.01 L445.6,232.16 L446.06,231.93 L446.49,233.49 L446.89,232.63 L447.3,232.74 L447.7,232.96 L448.1,234.16 L448.5,234.82 L448.9,234.85 L449.32,234.22 L449.75,233.83 L450.18,233.26 L450.6,234.23 L450.99,234.24 L451.37,234.14 L451.76,234.91 L452.2,234.91 L452.71,236.08 L453.26,236.2 L453.84,235.85 L454.4,237.25 L454.95,236.09 L455.5,237.02 L456.05,236.93 L456.6,236.78 L457.15,236.61 L457.7,237.86 L458.25,236.75 L458.8,237.78 L459.35,238.65 L459.9,237.67 L460.45,238.07 L461,238.97 L461.55,239 L462.1,239.36 L462.65,239.76 L463.2,238.88 L463.72,239.24 L464.23,239.36 L464.77,239.1 L465.4,240.62 L466.15,240.23 L466.98,240.51 L467.85,240.78 L468.7,241 L469.49,241.17 L470.24,241.31 L471.06,241.41 L472,241.5 L473.25,241.56 L474.71,241.58 L476.06,241.59 L477,241.6 L477,241.6 L424.7,241.6 Z" fill="#d6d6d6" stroke="none"/>
<path d="M424.7,241.6 L425.2,241.04 L425.91,240.23 L426.7,239.76 L427.4,237.92 L427.99,238.05 L428.53,236.27 L429.06,234.76 L429.6,234.22 L430.15,232.45 L430.7,230.69 L431.25,230.33 L431.8,228.18 L432.35,228.67 L432.9,227.24 L433.45,227.41 L434,227.47 L434.56,226.24 L435.13,225.72 L435.69,224.6 L436.2,223.7 L436.66,223.57 L437.09,223.73 L437.49,224.56 L437.9,224.39 L438.3,224.67 L438.7,225.48 L439.1,224.56 L439.5,225.16 L439.91,226.56 L440.31,226.45 L440.74,227.35 L441.2,228.67 L441.71,228.79 L442.27,229.57 L442.84,229.69 L443.4,230.63 L443.96,231.07 L444.53,230.91 L445.09,232.01 L445.6,232.16 L446.06,231.93 L446.49,233.49 L446.89,232.63 L447.3,232.74 L447.7,232.96 L448.1,234.16 L448.5,234.82 L448.9,234.85 L449.32,234.22 L449.75,233.83 L450.18,233.26 L450.6,234.23 L450.99,234.24 L451.37,234.14 L451.76,234.91 L452.2,234.91 L452.71,236.08 L453.26,236.2 L453.84,235.85 L454.4,237.25 L454.95,236.09 L455.5,237.02 L456.05,236.93 L456.6,236.78 L457.15,236.61 L457.7,237.86 L458.25,236.75 L458.8,237.78 L459.35,238.65 L459.9,237.67 L460.45,238.07 L461,238.97 L461.55,239 L462.1,239.36 L462.65,239.76 L463.2,238.88 L463.72,239.24 L464.23,239.36 L464.77,239.1 L465.4,240.62 L466.15,240.23 L466.98,240.51 L467.85,240.78 L468.7,241 L469.49,241.17 L470.24,241.31 L471.06,241.41 L472,241.5 L473.25,241.56 L474.71,241.58 L476.06,241.59 L477,241.6" fill="none" stroke="#151515" stroke-width="0.85" stroke-linejoin="miter"/>
<path d="M425,241.6 L425.24,240.72 L425.58,239.8 L425.96,238.15 L426.3,235.45 L426.6,233.92 L426.88,230.86 L427.15,227.56 L427.4,225.27 L427.62,222.85 L427.81,220.76 L428,219 L428.2,217.7 L428.43,216.26 L428.67,215.58 L428.9,215.16 L429.1,214.22 L429.24,213.59 L429.34,212.75 L429.44,211.48 L429.6,210.76 L429.83,209.11 L430.11,207.65 L430.41,205.54 L430.7,203.84 L430.96,203.22 L431.21,202.76 L431.48,201.49 L431.8,202.33 L432.2,202.24 L432.65,204.04 L433.1,205.7 L433.5,207.67 L433.82,208.88 L434.11,209.46 L434.36,209.73 L434.6,211.13 L434.82,211.28 L435.02,211.91 L435.21,213.47 L435.4,214.15 L435.58,215.38 L435.74,216.65 L435.94,218.46 L436.2,219.57 L436.56,221.96 L437,224.04 L437.46,226.52 L437.9,228.23 L438.29,230.61 L438.67,232.46 L439.06,234.07 L439.5,235.68 L440.03,237.68 L440.62,238.47 L441.2,240.12 L441.7,241 L442.12,241.47 L442.49,241.61 L442.79,241.6 L443,241.6" fill="none" stroke="#5e5e5e" stroke-width="0.75" stroke-linejoin="round"/>
<line x1="423.5" y1="179" x2="423.5" y2="241.6" stroke="#666" stroke-width="0.9"/>
<line x1="423.5" y1="241.6" x2="503.2" y2="241.6" stroke="#4a4a4a" stroke-width="1"/>
<line x1="421.9" y1="179" x2="423.5" y2="179" stroke="#999" stroke-width="0.5"/>
<line x1="421.9" y1="185.26" x2="423.5" y2="185.26" stroke="#999" stroke-width="0.5"/>
<line x1="421.9" y1="191.52" x2="423.5" y2="191.52" stroke="#999" stroke-width="0.5"/>
<line x1="421.9" y1="197.78" x2="423.5" y2="197.78" stroke="#999" stroke-width="0.5"/>
<line x1="421.9" y1="204.04" x2="423.5" y2="204.04" stroke="#999" stroke-width="0.5"/>
<line x1="421.9" y1="210.3" x2="423.5" y2="210.3" stroke="#999" stroke-width="0.5"/>
<line x1="421.9" y1="216.56" x2="423.5" y2="216.56" stroke="#999" stroke-width="0.5"/>
<line x1="421.9" y1="222.82" x2="423.5" y2="222.82" stroke="#999" stroke-width="0.5"/>
<line x1="421.9" y1="229.08" x2="423.5" y2="229.08" stroke="#999" stroke-width="0.5"/>
<line x1="421.9" y1="235.34" x2="423.5" y2="235.34" stroke="#999" stroke-width="0.5"/>
<line x1="421.9" y1="241.6" x2="423.5" y2="241.6" stroke="#999" stroke-width="0.5"/>
<line x1="423.5" y1="241.6" x2="423.5" y2="242.8" stroke="#888" stroke-width="0.5"/>
<text x="423.1" y="246.9" font-size="4.5" text-anchor="middle" fill="#4a4a4a">10<tspan font-size="3.1" dy="-1.5">0</tspan></text>
<line x1="429.46" y1="241.6" x2="429.46" y2="242.3" stroke="#aaa" stroke-width="0.35"/>
<line x1="432.95" y1="241.6" x2="432.95" y2="242.3" stroke="#aaa" stroke-width="0.35"/>
<line x1="435.42" y1="241.6" x2="435.42" y2="242.3" stroke="#aaa" stroke-width="0.35"/>
<line x1="437.34" y1="241.6" x2="437.34" y2="242.3" stroke="#aaa" stroke-width="0.35"/>
<line x1="438.91" y1="241.6" x2="438.91" y2="242.3" stroke="#aaa" stroke-width="0.35"/>
<line x1="440.23" y1="241.6" x2="440.23" y2="242.3" stroke="#aaa" stroke-width="0.35"/>
<line x1="441.38" y1="241.6" x2="441.38" y2="242.3" stroke="#aaa" stroke-width="0.35"/>
<line x1="442.39" y1="241.6" x2="442.39" y2="242.3" stroke="#aaa" stroke-width="0.35"/>
<line x1="443.3" y1="241.6" x2="443.3" y2="242.8" stroke="#888" stroke-width="0.5"/>
<text x="442.9" y="246.9" font-size="4.5" text-anchor="middle" fill="#4a4a4a">10<tspan font-size="3.1" dy="-1.5">1</tspan></text>
<line x1="449.26" y1="241.6" x2="449.26" y2="242.3" stroke="#aaa" stroke-width="0.35"/>
<line x1="452.75" y1="241.6" x2="452.75" y2="242.3" stroke="#aaa" stroke-width="0.35"/>
<line x1="455.22" y1="241.6" x2="455.22" y2="242.3" stroke="#aaa" stroke-width="0.35"/>
<line x1="457.14" y1="241.6" x2="457.14" y2="242.3" stroke="#aaa" stroke-width="0.35"/>
<line x1="458.71" y1="241.6" x2="458.71" y2="242.3" stroke="#aaa" stroke-width="0.35"/>
<line x1="460.03" y1="241.6" x2="460.03" y2="242.3" stroke="#aaa" stroke-width="0.35"/>
<line x1="461.18" y1="241.6" x2="461.18" y2="242.3" stroke="#aaa" stroke-width="0.35"/>
<line x1="462.19" y1="241.6" x2="462.19" y2="242.3" stroke="#aaa" stroke-width="0.35"/>
<line x1="463.1" y1="241.6" x2="463.1" y2="242.8" stroke="#888" stroke-width="0.5"/>
<text x="462.7" y="246.9" font-size="4.5" text-anchor="middle" fill="#4a4a4a">10<tspan font-size="3.1" dy="-1.5">2</tspan></text>
<line x1="469.06" y1="241.6" x2="469.06" y2="242.3" stroke="#aaa" stroke-width="0.35"/>
<line x1="472.55" y1="241.6" x2="472.55" y2="242.3" stroke="#aaa" stroke-width="0.35"/>
<line x1="475.02" y1="241.6" x2="475.02" y2="242.3" stroke="#aaa" stroke-width="0.35"/>
<line x1="476.94" y1="241.6" x2="476.94" y2="242.3" stroke="#aaa" stroke-width="0.35"/>
<line x1="478.51" y1="241.6" x2="478.51" y2="242.3" stroke="#aaa" stroke-width="0.35"/>
<line x1="479.83" y1="241.6" x2="479.83" y2="242.3" stroke="#aaa" stroke-width="0.35"/>
<line x1="480.98" y1="241.6" x2="480.98" y2="242.3" stroke="#aaa" stroke-width="0.35"/>
<line x1="481.99" y1="241.6" x2="481.99" y2="242.3" stroke="#aaa" stroke-width="0.35"/>
<line x1="482.9" y1="241.6" x2="482.9" y2="242.8" stroke="#888" stroke-width="0.5"/>
<text x="482.5" y="246.9" font-size="4.5" text-anchor="middle" fill="#4a4a4a">10<tspan font-size="3.1" dy="-1.5">3</tspan></text>
<line x1="488.86" y1="241.6" x2="488.86" y2="242.3" stroke="#aaa" stroke-width="0.35"/>
<line x1="492.35" y1="241.6" x2="492.35" y2="242.3" stroke="#aaa" stroke-width="0.35"/>
<line x1="494.82" y1="241.6" x2="494.82" y2="242.3" stroke="#aaa" stroke-width="0.35"/>
<line x1="496.74" y1="241.6" x2="496.74" y2="242.3" stroke="#aaa" stroke-width="0.35"/>
<line x1="498.31" y1="241.6" x2="498.31" y2="242.3" stroke="#aaa" stroke-width="0.35"/>
<line x1="499.63" y1="241.6" x2="499.63" y2="242.3" stroke="#aaa" stroke-width="0.35"/>
<line x1="500.78" y1="241.6" x2="500.78" y2="242.3" stroke="#aaa" stroke-width="0.35"/>
<line x1="501.79" y1="241.6" x2="501.79" y2="242.3" stroke="#aaa" stroke-width="0.35"/>
<line x1="502.7" y1="241.6" x2="502.7" y2="242.8" stroke="#888" stroke-width="0.5"/>
<text x="502.3" y="246.9" font-size="4.5" text-anchor="middle" fill="#4a4a4a">10<tspan font-size="3.1" dy="-1.5">4</tspan></text>
</svg></body></html>
